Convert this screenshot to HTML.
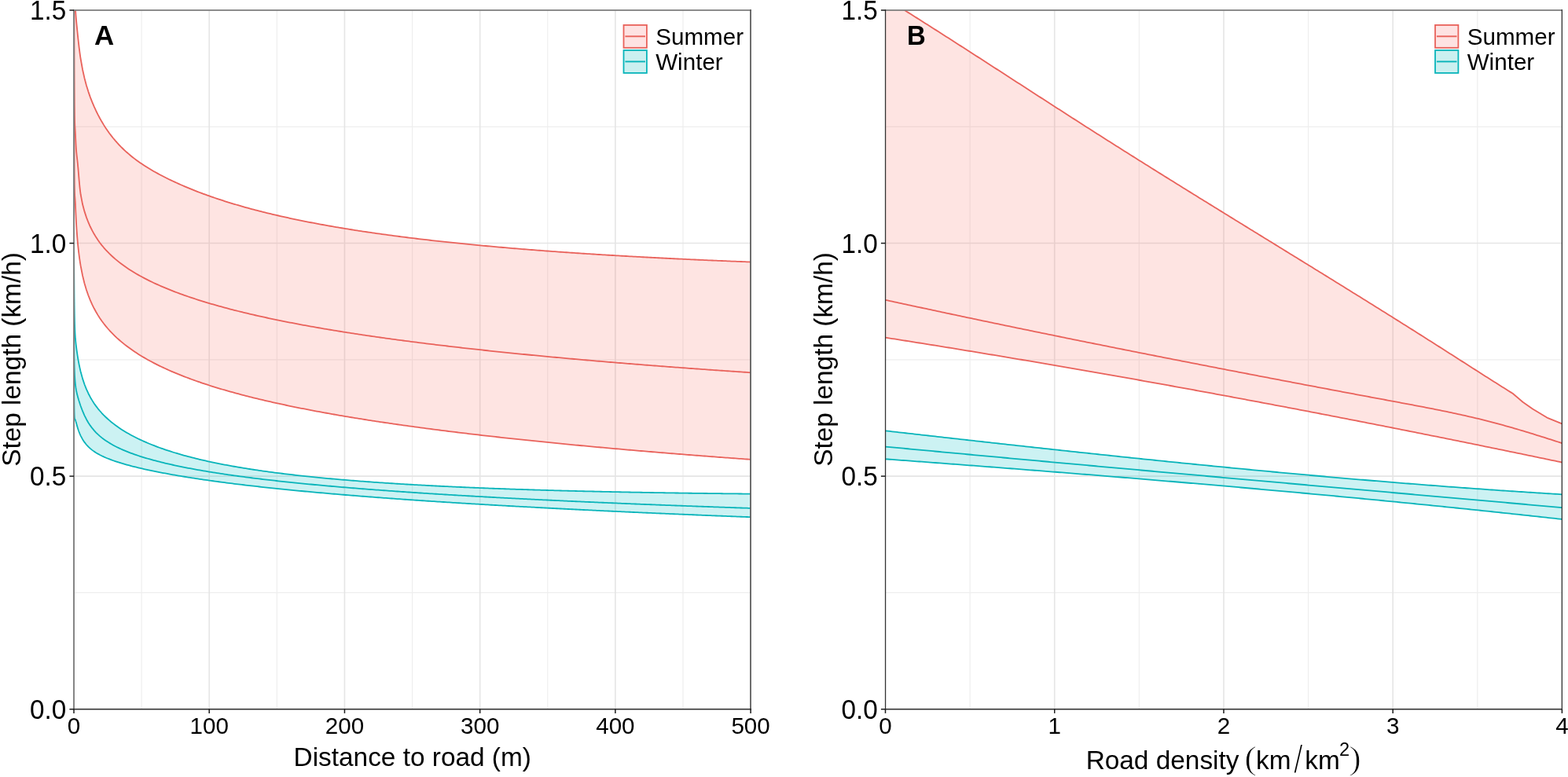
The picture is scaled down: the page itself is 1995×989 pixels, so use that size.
<!DOCTYPE html>
<html><head><meta charset="utf-8"><title>Step length plots</title>
<style>html,body{margin:0;padding:0;background:#fff;}body{width:1995px;height:989px;overflow:hidden;}svg{display:block;}text{font-family:"Liberation Sans",sans-serif;fill:#000;}</style>
</head><body>
<svg width="1995" height="989" viewBox="0 0 1995 989">
<rect x="0" y="0" width="1995" height="989" fill="#fff"/>
<defs><clipPath id="ca"><rect x="94.00" y="13.00" width="861.10" height="889.70"/></clipPath><clipPath id="cb"><rect x="1126.50" y="13.00" width="860.90" height="889.70"/></clipPath></defs>
<line x1="94.00" y1="754.42" x2="955.10" y2="754.42" stroke="#EEEEEE" stroke-width="1.2"/>
<line x1="94.00" y1="457.85" x2="955.10" y2="457.85" stroke="#EEEEEE" stroke-width="1.2"/>
<line x1="94.00" y1="161.28" x2="955.10" y2="161.28" stroke="#EEEEEE" stroke-width="1.2"/>
<line x1="180.11" y1="13.00" x2="180.11" y2="902.70" stroke="#EEEEEE" stroke-width="1.2"/>
<line x1="352.33" y1="13.00" x2="352.33" y2="902.70" stroke="#EEEEEE" stroke-width="1.2"/>
<line x1="524.55" y1="13.00" x2="524.55" y2="902.70" stroke="#EEEEEE" stroke-width="1.2"/>
<line x1="696.77" y1="13.00" x2="696.77" y2="902.70" stroke="#EEEEEE" stroke-width="1.2"/>
<line x1="868.99" y1="13.00" x2="868.99" y2="902.70" stroke="#EEEEEE" stroke-width="1.2"/>
<line x1="94.00" y1="606.13" x2="955.10" y2="606.13" stroke="#E5E5E5" stroke-width="1.6"/>
<line x1="94.00" y1="309.57" x2="955.10" y2="309.57" stroke="#E5E5E5" stroke-width="1.6"/>
<line x1="266.22" y1="13.00" x2="266.22" y2="902.70" stroke="#E5E5E5" stroke-width="1.6"/>
<line x1="438.44" y1="13.00" x2="438.44" y2="902.70" stroke="#E5E5E5" stroke-width="1.6"/>
<line x1="610.66" y1="13.00" x2="610.66" y2="902.70" stroke="#E5E5E5" stroke-width="1.6"/>
<line x1="782.88" y1="13.00" x2="782.88" y2="902.70" stroke="#E5E5E5" stroke-width="1.6"/>
<g clip-path="url(#ca)">
<polygon points="94.60,-29.74 94.62,-28.60 94.64,-27.36 94.66,-26.13 94.68,-24.91 94.70,-23.69 94.72,-22.48 94.74,-21.27 94.77,-20.07 94.79,-18.88 94.82,-17.69 94.84,-16.51 94.87,-15.35 94.90,-14.19 94.92,-13.04 94.95,-11.90 94.98,-10.76 95.01,-9.64 95.05,-8.53 95.08,-7.43 95.11,-6.34 95.15,-5.26 95.18,-4.19 95.22,-3.12 95.26,-2.07 95.30,-1.03 95.34,0.00 95.38,1.03 95.43,2.04 95.47,3.05 95.52,4.05 95.57,5.04 95.61,6.02 95.67,7.00 95.72,7.97 95.77,8.94 95.83,9.90 95.89,10.86 95.94,11.81 96.01,12.77 96.07,13.72 96.13,14.67 96.20,15.63 96.27,16.58 96.34,17.54 96.42,18.50 96.49,19.47 96.57,20.45 96.65,21.43 96.73,22.42 96.82,23.42 96.91,24.44 97.00,25.47 97.10,26.51 97.19,27.57 97.29,28.65 97.40,29.74 97.50,30.86 97.61,32.00 97.73,33.17 97.85,34.36 97.97,35.58 98.09,36.83 98.22,38.11 98.35,39.42 98.49,40.77 98.63,42.16 98.78,43.58 98.93,45.04 99.08,46.53 99.24,48.05 99.41,49.59 99.58,51.17 99.75,52.76 99.94,54.38 100.12,56.02 100.32,57.68 100.51,59.35 100.72,61.04 100.93,62.73 101.15,64.44 101.37,66.15 101.61,67.87 101.85,69.59 102.09,71.31 102.35,73.03 102.61,74.74 105.05,88.50 107.50,99.47 109.94,108.65 112.38,116.59 114.82,123.61 117.27,129.93 119.71,135.69 122.15,140.99 124.59,145.92 127.04,150.53 129.48,154.83 131.92,158.88 134.37,162.68 136.81,166.28 139.25,169.68 141.69,172.90 144.14,175.96 146.58,178.87 149.02,181.65 151.46,184.29 153.91,186.83 156.35,189.25 158.79,191.57 161.23,193.80 163.68,195.94 166.12,197.99 168.56,199.97 171.01,201.87 173.45,203.71 175.89,205.49 178.33,207.20 180.78,208.86 183.22,210.48 185.66,212.04 188.10,213.57 190.55,215.05 192.99,216.50 195.43,217.91 197.87,219.29 200.32,220.64 202.76,221.96 205.20,223.26 207.65,224.53 210.09,225.77 212.53,226.99 214.97,228.19 217.42,229.37 219.86,230.53 222.30,231.67 224.74,232.79 227.19,233.89 229.63,234.98 232.07,236.05 234.51,237.10 236.96,238.14 239.40,239.16 241.84,240.16 244.29,241.16 246.73,242.13 249.17,243.09 251.61,244.04 254.06,244.98 256.50,245.90 258.94,246.81 261.38,247.70 263.83,248.58 266.27,249.46 268.71,250.31 271.15,251.16 273.60,252.00 276.04,252.82 278.48,253.64 280.93,254.44 283.37,255.23 285.81,256.02 288.25,256.79 290.70,257.55 293.14,258.30 295.58,259.05 298.02,259.78 300.47,260.51 302.91,261.23 305.35,261.93 307.79,262.63 310.24,263.32 312.68,264.01 315.12,264.68 317.57,265.35 320.01,266.01 322.45,266.66 324.89,267.30 327.34,267.94 329.78,268.57 332.22,269.19 334.66,269.81 337.11,270.42 339.55,271.02 341.99,271.61 344.43,272.20 346.88,272.79 349.32,273.36 351.76,273.93 354.21,274.50 356.65,275.05 359.09,275.61 361.53,276.15 363.98,276.69 366.42,277.23 368.86,277.76 371.30,278.28 373.75,278.80 376.19,279.32 378.63,279.82 381.07,280.33 383.52,280.83 385.96,281.32 388.40,281.81 390.85,282.29 393.29,282.77 395.73,283.25 398.17,283.71 400.62,284.18 403.06,284.64 405.50,285.10 407.94,285.55 410.39,286.00 412.83,286.44 415.27,286.88 417.71,287.32 420.16,287.75 422.60,288.18 425.04,288.60 427.49,289.02 429.93,289.44 432.37,289.85 434.81,290.26 437.26,290.66 439.70,291.06 442.14,291.46 444.58,291.86 447.03,292.25 449.47,292.63 451.91,293.02 454.35,293.40 456.80,293.78 459.24,294.15 461.68,294.52 464.12,294.89 466.57,295.25 469.01,295.61 471.45,295.97 473.90,296.33 476.34,296.68 478.78,297.03 481.22,297.38 483.67,297.72 486.11,298.06 488.55,298.40 490.99,298.73 493.44,299.07 495.88,299.40 498.32,299.72 500.76,300.05 503.21,300.37 505.65,300.69 508.09,301.01 510.54,301.32 512.98,301.63 515.42,301.94 517.86,302.25 520.31,302.55 522.75,302.86 525.19,303.16 527.63,303.45 530.08,303.75 532.52,304.04 534.96,304.33 537.40,304.62 539.85,304.91 542.29,305.19 544.73,305.47 547.18,305.75 549.62,306.03 552.06,306.30 554.50,306.58 556.95,306.85 559.39,307.12 561.83,307.38 564.27,307.65 566.72,307.91 569.16,308.17 571.60,308.43 574.04,308.69 576.49,308.95 578.93,309.20 581.37,309.45 583.82,309.70 586.26,309.95 588.70,310.20 591.14,310.44 593.59,310.68 596.03,310.93 598.47,311.17 600.91,311.40 603.36,311.64 605.80,311.87 608.24,312.11 610.68,312.34 613.13,312.57 615.57,312.79 618.01,313.02 620.46,313.24 622.90,313.47 625.34,313.69 627.78,313.91 630.23,314.13 632.67,314.34 635.11,314.56 637.55,314.77 640.00,314.99 642.44,315.20 644.88,315.41 647.32,315.61 649.77,315.82 652.21,316.03 654.65,316.23 657.10,316.43 659.54,316.63 661.98,316.83 664.42,317.03 666.87,317.23 669.31,317.42 671.75,317.62 674.19,317.81 676.64,318.00 679.08,318.19 681.52,318.38 683.96,318.57 686.41,318.76 688.85,318.94 691.29,319.13 693.74,319.31 696.18,319.49 698.62,319.67 701.06,319.85 703.51,320.03 705.95,320.21 708.39,320.38 710.83,320.56 713.28,320.73 715.72,320.90 718.16,321.08 720.60,321.25 723.05,321.41 725.49,321.58 727.93,321.75 730.38,321.92 732.82,322.08 735.26,322.24 737.70,322.41 740.15,322.57 742.59,322.73 745.03,322.89 747.47,323.05 749.92,323.21 752.36,323.36 754.80,323.52 757.24,323.67 759.69,323.83 762.13,323.98 764.57,324.13 767.02,324.28 769.46,324.43 771.90,324.58 774.34,324.73 776.79,324.87 779.23,325.02 781.67,325.17 784.11,325.31 786.56,325.45 789.00,325.60 791.44,325.74 793.88,325.88 796.33,326.02 798.77,326.16 801.21,326.30 803.65,326.43 806.10,326.57 808.54,326.70 810.98,326.84 813.43,326.97 815.87,327.11 818.31,327.24 820.75,327.37 823.20,327.50 825.64,327.63 828.08,327.76 830.52,327.89 832.97,328.01 835.41,328.14 837.85,328.27 840.29,328.39 842.74,328.52 845.18,328.64 847.62,328.76 850.07,328.89 852.51,329.01 854.95,329.13 857.39,329.25 859.84,329.37 862.28,329.48 864.72,329.60 867.16,329.72 869.61,329.84 872.05,329.95 874.49,330.07 876.93,330.18 879.38,330.29 881.82,330.41 884.26,330.52 886.71,330.63 889.15,330.74 891.59,330.85 894.03,330.96 896.48,331.07 898.92,331.18 901.36,331.29 903.80,331.39 906.25,331.50 908.69,331.60 911.13,331.71 913.57,331.81 916.02,331.92 918.46,332.02 920.90,332.12 923.35,332.22 925.79,332.33 928.23,332.43 930.67,332.53 933.12,332.63 935.56,332.72 938.00,332.82 940.44,332.92 942.89,333.02 945.33,333.11 947.77,333.21 950.21,333.30 952.66,333.40 955.10,333.49 955.10,584.85 952.66,584.68 950.21,584.50 947.77,584.33 945.33,584.15 942.89,583.97 940.44,583.79 938.00,583.61 935.56,583.43 933.12,583.25 930.67,583.07 928.23,582.89 925.79,582.71 923.35,582.53 920.90,582.35 918.46,582.17 916.02,581.98 913.57,581.80 911.13,581.61 908.69,581.43 906.25,581.24 903.80,581.06 901.36,580.87 898.92,580.69 896.48,580.50 894.03,580.31 891.59,580.12 889.15,579.93 886.71,579.74 884.26,579.55 881.82,579.36 879.38,579.17 876.93,578.98 874.49,578.79 872.05,578.59 869.61,578.40 867.16,578.21 864.72,578.01 862.28,577.82 859.84,577.62 857.39,577.42 854.95,577.23 852.51,577.03 850.07,576.83 847.62,576.63 845.18,576.43 842.74,576.23 840.29,576.03 837.85,575.83 835.41,575.63 832.97,575.43 830.52,575.23 828.08,575.02 825.64,574.82 823.20,574.61 820.75,574.41 818.31,574.20 815.87,573.99 813.43,573.79 810.98,573.58 808.54,573.37 806.10,573.16 803.65,572.95 801.21,572.74 798.77,572.53 796.33,572.32 793.88,572.10 791.44,571.89 789.00,571.67 786.56,571.46 784.11,571.24 781.67,571.03 779.23,570.81 776.79,570.59 774.34,570.37 771.90,570.15 769.46,569.93 767.02,569.71 764.57,569.49 762.13,569.27 759.69,569.05 757.24,568.82 754.80,568.60 752.36,568.37 749.92,568.15 747.47,567.92 745.03,567.69 742.59,567.46 740.15,567.23 737.70,567.00 735.26,566.77 732.82,566.54 730.38,566.31 727.93,566.07 725.49,565.84 723.05,565.60 720.60,565.37 718.16,565.13 715.72,564.89 713.28,564.66 710.83,564.42 708.39,564.18 705.95,563.93 703.51,563.69 701.06,563.45 698.62,563.21 696.18,562.96 693.74,562.71 691.29,562.47 688.85,562.22 686.41,561.97 683.96,561.72 681.52,561.47 679.08,561.22 676.64,560.97 674.19,560.71 671.75,560.46 669.31,560.20 666.87,559.95 664.42,559.69 661.98,559.43 659.54,559.17 657.10,558.91 654.65,558.65 652.21,558.39 649.77,558.12 647.32,557.86 644.88,557.59 642.44,557.32 640.00,557.05 637.55,556.79 635.11,556.51 632.67,556.24 630.23,555.97 627.78,555.70 625.34,555.42 622.90,555.14 620.46,554.87 618.01,554.59 615.57,554.31 613.13,554.03 610.68,553.74 608.24,553.46 605.80,553.18 603.36,552.89 600.91,552.60 598.47,552.31 596.03,552.02 593.59,551.73 591.14,551.44 588.70,551.15 586.26,550.85 583.82,550.55 581.37,550.25 578.93,549.96 576.49,549.65 574.04,549.35 571.60,549.05 569.16,548.74 566.72,548.44 564.27,548.13 561.83,547.82 559.39,547.51 556.95,547.19 554.50,546.88 552.06,546.56 549.62,546.25 547.18,545.93 544.73,545.61 542.29,545.28 539.85,544.96 537.40,544.63 534.96,544.31 532.52,543.98 530.08,543.65 527.63,543.32 525.19,542.98 522.75,542.65 520.31,542.31 517.86,541.97 515.42,541.63 512.98,541.28 510.54,540.94 508.09,540.59 505.65,540.24 503.21,539.89 500.76,539.54 498.32,539.19 495.88,538.83 493.44,538.47 490.99,538.11 488.55,537.75 486.11,537.38 483.67,537.02 481.22,536.65 478.78,536.27 476.34,535.90 473.90,535.53 471.45,535.15 469.01,534.77 466.57,534.38 464.12,534.00 461.68,533.61 459.24,533.22 456.80,532.83 454.35,532.44 451.91,532.04 449.47,531.64 447.03,531.24 444.58,530.83 442.14,530.43 439.70,530.02 437.26,529.60 434.81,529.19 432.37,528.77 429.93,528.35 427.49,527.92 425.04,527.50 422.60,527.07 420.16,526.64 417.71,526.20 415.27,525.76 412.83,525.32 410.39,524.87 407.94,524.43 405.50,523.98 403.06,523.52 400.62,523.06 398.17,522.60 395.73,522.14 393.29,521.67 390.85,521.20 388.40,520.72 385.96,520.24 383.52,519.76 381.07,519.27 378.63,518.78 376.19,518.29 373.75,517.79 371.30,517.29 368.86,516.78 366.42,516.27 363.98,515.75 361.53,515.23 359.09,514.71 356.65,514.18 354.21,513.65 351.76,513.11 349.32,512.57 346.88,512.02 344.43,511.47 341.99,510.91 339.55,510.35 337.11,509.78 334.66,509.21 332.22,508.63 329.78,508.05 327.34,507.46 324.89,506.86 322.45,506.26 320.01,505.66 317.57,505.04 315.12,504.43 312.68,503.80 310.24,503.17 307.79,502.53 305.35,501.88 302.91,501.23 300.47,500.57 298.02,499.91 295.58,499.23 293.14,498.55 290.70,497.86 288.25,497.17 285.81,496.46 283.37,495.75 280.93,495.03 278.48,494.29 276.04,493.55 273.60,492.81 271.15,492.05 268.71,491.28 266.27,490.50 263.83,489.71 261.38,488.91 258.94,488.10 256.50,487.28 254.06,486.45 251.61,485.61 249.17,484.75 246.73,483.88 244.29,483.00 241.84,482.11 239.40,481.20 236.96,480.28 234.51,479.34 232.07,478.39 229.63,477.42 227.19,476.43 224.74,475.43 222.30,474.42 219.86,473.38 217.42,472.33 214.97,471.25 212.53,470.16 210.09,469.04 207.65,467.91 205.20,466.75 202.76,465.57 200.32,464.36 197.87,463.13 195.43,461.87 192.99,460.58 190.55,459.26 188.10,457.92 185.66,456.54 183.22,455.12 180.78,453.67 178.33,452.19 175.89,450.66 173.45,449.09 171.01,447.48 168.56,445.81 166.12,444.10 163.68,442.33 161.23,440.51 158.79,438.62 156.35,436.66 153.91,434.64 151.46,432.53 149.02,430.34 146.58,428.05 144.14,425.66 141.69,423.16 139.25,420.53 136.81,417.76 134.37,414.84 131.92,411.74 129.48,408.44 127.04,404.91 124.59,401.12 122.15,397.01 119.71,392.54 117.27,387.63 114.82,382.16 112.38,376.01 109.94,368.97 107.50,360.73 105.05,350.79 102.61,338.24 102.35,336.67 102.09,335.10 101.85,333.52 101.61,331.94 101.37,330.36 101.15,328.78 100.93,327.19 100.72,325.60 100.51,324.01 100.32,322.41 100.12,320.81 99.94,319.21 99.75,317.60 99.58,315.99 99.41,314.38 99.24,312.76 99.08,311.14 98.93,309.52 98.78,307.89 98.63,306.26 98.49,304.63 98.35,303.00 98.22,301.36 98.09,299.72 97.97,298.07 97.85,296.42 97.73,294.78 97.61,293.12 97.50,291.47 97.40,289.81 97.29,288.15 97.19,286.49 97.10,284.83 97.00,283.16 96.91,281.50 96.82,279.83 96.73,278.16 96.65,276.49 96.57,274.82 96.49,273.16 96.42,271.53 96.34,269.92 96.27,268.35 96.20,266.82 96.13,265.34 96.07,263.91 96.01,262.55 95.94,261.25 95.89,260.03 95.83,258.89 95.77,257.83 95.72,256.86 95.67,255.99 95.61,255.20 95.57,254.48 95.52,253.83 95.47,253.22 95.43,252.65 95.38,252.11 95.34,251.58 95.30,251.05 95.26,250.52 95.22,249.98 95.18,249.41 95.15,248.81 95.11,248.18 95.08,247.50 95.05,246.76 95.01,245.97 94.98,245.11 94.95,244.19 94.92,243.19 94.90,242.12 94.87,240.96 94.84,239.72 94.82,238.39 94.79,236.97 94.77,235.46 94.74,233.86 94.72,232.16 94.70,230.37 94.68,228.48 94.66,226.50 94.64,224.42 94.62,222.25 94.60,219.98 94.58,217.62 94.56,215.17 94.55,212.63 94.53,210.00 94.51,207.27 94.50,204.46 94.48,201.56 94.47,198.58 94.45,195.51 94.44,192.37 94.43,189.14 94.41,185.85 94.40,182.48 94.39,179.04 94.38,175.54 94.36,171.98 94.35,168.37 94.34,164.70 94.33,160.98 94.32,157.22 94.31,153.41 94.30,149.57 94.29,145.69 94.28,141.78 94.28,137.85 94.27,133.90 94.26,129.93 94.25,125.94 94.24,121.94 94.24,117.94 94.23,113.93 94.22,109.93 94.22,105.92 94.21,101.93 94.20,97.94 94.20,93.97 94.19,90.01 94.18,86.08 94.18,82.16 94.17,78.27 94.17,74.41 94.16,70.57 94.16,66.77 94.15,63.00 94.15,59.26 94.14,55.57 94.14,51.91 94.14,48.29 94.13,44.72 94.13,41.19 94.12,37.70 94.12,34.27 94.12,30.87 94.11,27.53 94.11,24.24 94.11,20.99 94.10,17.80 94.10,14.66 94.10,11.57 94.09,8.53 94.09,5.54 94.09,2.61 94.08,-0.27 94.08,-3.10 94.08,-5.88 94.08,-8.60 94.07,-11.27 94.07,-13.89 94.07,-16.45 94.07,-18.97 94.07,-21.43 94.06,-23.84 94.06,-26.20 94.06,-28.50 94.06,-30.76 94.06,-32.97 94.06,-35.13 94.05,-37.24 94.05,-39.30 94.05,-41.32 94.05,-41.47" fill="#F8766D" fill-opacity="0.2" stroke="none"/>
<polygon points="94.05,320.57 94.05,320.60 94.05,320.92 94.05,321.26 94.06,321.61 94.06,321.96 94.06,322.33 94.06,322.70 94.06,323.09 94.06,323.48 94.07,323.89 94.07,324.31 94.07,324.74 94.07,325.18 94.07,325.63 94.08,326.09 94.08,326.57 94.08,327.05 94.08,327.56 94.09,328.07 94.09,328.60 94.09,329.14 94.10,329.69 94.10,330.26 94.10,330.84 94.11,331.43 94.11,332.05 94.11,332.67 94.12,333.31 94.12,333.97 94.12,334.64 94.13,335.32 94.13,336.03 94.14,336.74 94.14,337.48 94.14,338.23 94.15,339.00 94.15,339.78 94.16,340.59 94.16,341.40 94.17,342.24 94.17,343.09 94.18,343.96 94.18,344.85 94.19,345.76 94.20,346.68 94.20,347.62 94.21,348.58 94.22,349.56 94.22,350.55 94.23,351.56 94.24,352.59 94.24,353.64 94.25,354.71 94.26,355.79 94.27,356.89 94.28,358.00 94.28,359.13 94.29,360.28 94.30,361.45 94.31,362.63 94.32,363.82 94.33,365.04 94.34,366.26 94.35,367.50 94.36,368.75 94.38,370.02 94.39,371.30 94.40,372.59 94.41,373.89 94.43,375.21 94.44,376.53 94.45,377.86 94.47,379.20 94.48,380.55 94.50,381.91 94.51,383.27 94.53,384.63 94.55,386.00 94.56,387.37 94.58,388.74 94.60,390.11 94.62,391.48 94.64,392.85 94.66,394.21 94.68,395.57 94.70,396.92 94.72,398.26 94.74,399.59 94.77,400.92 94.79,402.23 94.82,403.52 94.84,404.80 94.87,406.06 94.90,407.30 94.92,408.52 94.95,409.72 94.98,410.89 95.01,412.04 95.05,413.17 95.08,414.28 95.11,415.36 95.15,416.42 95.18,417.45 95.22,418.46 95.26,419.45 95.30,420.42 95.34,421.37 95.38,422.29 95.43,423.19 95.47,424.07 95.52,424.94 95.57,425.78 95.61,426.60 95.67,427.41 95.72,428.20 95.77,428.97 95.83,429.73 95.89,430.48 95.94,431.21 96.01,431.93 96.07,432.65 96.13,433.36 96.20,434.06 96.27,434.75 96.34,435.45 96.42,436.14 96.49,436.83 96.57,437.53 96.65,438.23 96.73,438.94 96.82,439.65 96.91,440.38 97.00,441.12 97.10,441.87 97.19,442.64 97.29,443.42 97.40,444.21 97.50,445.02 97.61,445.83 97.73,446.66 97.85,447.50 97.97,448.35 98.09,449.22 98.22,450.09 98.35,450.98 98.49,451.88 98.63,452.79 98.78,453.71 98.93,454.64 99.08,455.58 99.24,456.53 99.41,457.49 99.58,458.46 99.75,459.44 99.94,460.43 100.12,461.43 100.32,462.44 100.51,463.46 100.72,464.48 100.93,465.52 101.15,466.56 101.37,467.60 101.61,468.66 101.85,469.72 102.09,470.79 102.35,471.87 102.61,472.95 105.05,481.88 107.50,489.21 109.94,495.39 112.38,500.73 114.82,505.43 117.27,509.63 119.71,513.42 122.15,516.89 124.59,520.07 127.04,523.02 129.48,525.76 131.92,528.33 134.37,530.75 136.81,533.02 139.25,535.18 141.69,537.22 144.14,539.17 146.58,541.03 149.02,542.80 151.46,544.50 153.91,546.13 156.35,547.70 158.79,549.21 161.23,550.67 163.68,552.08 166.12,553.43 168.56,554.75 171.01,556.02 173.45,557.26 175.89,558.46 178.33,559.63 180.78,560.76 183.22,561.86 185.66,562.93 188.10,563.98 190.55,565.00 192.99,565.99 195.43,566.96 197.87,567.90 200.32,568.83 202.76,569.73 205.20,570.61 207.65,571.47 210.09,572.31 212.53,573.13 214.97,573.93 217.42,574.72 219.86,575.49 222.30,576.24 224.74,576.98 227.19,577.70 229.63,578.41 232.07,579.10 234.51,579.78 236.96,580.45 239.40,581.10 241.84,581.74 244.29,582.37 246.73,582.99 249.17,583.59 251.61,584.19 254.06,584.77 256.50,585.35 258.94,585.91 261.38,586.46 263.83,587.01 266.27,587.54 268.71,588.07 271.15,588.59 273.60,589.09 276.04,589.59 278.48,590.09 280.93,590.57 283.37,591.04 285.81,591.51 288.25,591.97 290.70,592.43 293.14,592.87 295.58,593.31 298.02,593.75 300.47,594.17 302.91,594.59 305.35,595.01 307.79,595.42 310.24,595.82 312.68,596.21 315.12,596.60 317.57,596.99 320.01,597.37 322.45,597.74 324.89,598.11 327.34,598.47 329.78,598.83 332.22,599.18 334.66,599.53 337.11,599.87 339.55,600.21 341.99,600.55 344.43,600.88 346.88,601.20 349.32,601.52 351.76,601.84 354.21,602.15 356.65,602.46 359.09,602.76 361.53,603.06 363.98,603.36 366.42,603.65 368.86,603.94 371.30,604.23 373.75,604.51 376.19,604.79 378.63,605.06 381.07,605.34 383.52,605.60 385.96,605.87 388.40,606.13 390.85,606.39 393.29,606.65 395.73,606.90 398.17,607.15 400.62,607.39 403.06,607.64 405.50,607.88 407.94,608.12 410.39,608.35 412.83,608.58 415.27,608.81 417.71,609.04 420.16,609.26 422.60,609.49 425.04,609.70 427.49,609.92 429.93,610.14 432.37,610.35 434.81,610.56 437.26,610.76 439.70,610.97 442.14,611.17 444.58,611.37 447.03,611.57 449.47,611.77 451.91,611.96 454.35,612.15 456.80,612.34 459.24,612.53 461.68,612.71 464.12,612.90 466.57,613.08 469.01,613.26 471.45,613.44 473.90,613.61 476.34,613.78 478.78,613.96 481.22,614.13 483.67,614.30 486.11,614.46 488.55,614.63 490.99,614.79 493.44,614.95 495.88,615.11 498.32,615.27 500.76,615.43 503.21,615.58 505.65,615.73 508.09,615.88 510.54,616.03 512.98,616.18 515.42,616.33 517.86,616.48 520.31,616.62 522.75,616.76 525.19,616.90 527.63,617.04 530.08,617.18 532.52,617.32 534.96,617.45 537.40,617.59 539.85,617.72 542.29,617.85 544.73,617.98 547.18,618.11 549.62,618.24 552.06,618.37 554.50,618.49 556.95,618.61 559.39,618.74 561.83,618.86 564.27,618.98 566.72,619.10 569.16,619.22 571.60,619.33 574.04,619.45 576.49,619.56 578.93,619.68 581.37,619.79 583.82,619.90 586.26,620.01 588.70,620.12 591.14,620.23 593.59,620.33 596.03,620.44 598.47,620.54 600.91,620.65 603.36,620.75 605.80,620.85 608.24,620.95 610.68,621.05 613.13,621.15 615.57,621.25 618.01,621.35 620.46,621.44 622.90,621.54 625.34,621.63 627.78,621.73 630.23,621.82 632.67,621.91 635.11,622.00 637.55,622.09 640.00,622.18 642.44,622.27 644.88,622.35 647.32,622.44 649.77,622.53 652.21,622.61 654.65,622.69 657.10,622.78 659.54,622.86 661.98,622.94 664.42,623.02 666.87,623.10 669.31,623.18 671.75,623.26 674.19,623.34 676.64,623.41 679.08,623.49 681.52,623.57 683.96,623.64 686.41,623.72 688.85,623.79 691.29,623.86 693.74,623.93 696.18,624.00 698.62,624.08 701.06,624.14 703.51,624.21 705.95,624.28 708.39,624.35 710.83,624.42 713.28,624.48 715.72,624.55 718.16,624.62 720.60,624.68 723.05,624.74 725.49,624.81 727.93,624.87 730.38,624.93 732.82,625.00 735.26,625.06 737.70,625.12 740.15,625.18 742.59,625.24 745.03,625.29 747.47,625.35 749.92,625.41 752.36,625.47 754.80,625.52 757.24,625.58 759.69,625.64 762.13,625.69 764.57,625.74 767.02,625.80 769.46,625.85 771.90,625.90 774.34,625.96 776.79,626.01 779.23,626.06 781.67,626.11 784.11,626.16 786.56,626.21 789.00,626.26 791.44,626.31 793.88,626.36 796.33,626.40 798.77,626.45 801.21,626.50 803.65,626.54 806.10,626.59 808.54,626.63 810.98,626.68 813.43,626.72 815.87,626.77 818.31,626.81 820.75,626.85 823.20,626.90 825.64,626.94 828.08,626.98 830.52,627.02 832.97,627.06 835.41,627.10 837.85,627.14 840.29,627.18 842.74,627.22 845.18,627.26 847.62,627.30 850.07,627.34 852.51,627.38 854.95,627.41 857.39,627.45 859.84,627.49 862.28,627.52 864.72,627.56 867.16,627.59 869.61,627.63 872.05,627.66 874.49,627.70 876.93,627.73 879.38,627.76 881.82,627.80 884.26,627.83 886.71,627.86 889.15,627.89 891.59,627.92 894.03,627.96 896.48,627.99 898.92,628.02 901.36,628.05 903.80,628.08 906.25,628.11 908.69,628.13 911.13,628.16 913.57,628.19 916.02,628.22 918.46,628.25 920.90,628.28 923.35,628.30 925.79,628.33 928.23,628.36 930.67,628.38 933.12,628.41 935.56,628.43 938.00,628.46 940.44,628.48 942.89,628.51 945.33,628.53 947.77,628.56 950.21,628.58 952.66,628.60 955.10,628.63 955.10,658.21 952.66,658.12 950.21,658.02 947.77,657.93 945.33,657.83 942.89,657.74 940.44,657.64 938.00,657.55 935.56,657.45 933.12,657.35 930.67,657.26 928.23,657.16 925.79,657.06 923.35,656.97 920.90,656.87 918.46,656.77 916.02,656.67 913.57,656.57 911.13,656.48 908.69,656.38 906.25,656.28 903.80,656.18 901.36,656.08 898.92,655.98 896.48,655.88 894.03,655.78 891.59,655.68 889.15,655.58 886.71,655.48 884.26,655.37 881.82,655.27 879.38,655.17 876.93,655.07 874.49,654.97 872.05,654.86 869.61,654.76 867.16,654.66 864.72,654.55 862.28,654.45 859.84,654.35 857.39,654.24 854.95,654.14 852.51,654.03 850.07,653.93 847.62,653.82 845.18,653.71 842.74,653.61 840.29,653.50 837.85,653.40 835.41,653.29 832.97,653.18 830.52,653.07 828.08,652.97 825.64,652.86 823.20,652.75 820.75,652.64 818.31,652.53 815.87,652.42 813.43,652.31 810.98,652.20 808.54,652.09 806.10,651.98 803.65,651.87 801.21,651.76 798.77,651.65 796.33,651.53 793.88,651.42 791.44,651.31 789.00,651.20 786.56,651.08 784.11,650.97 781.67,650.85 779.23,650.74 776.79,650.62 774.34,650.51 771.90,650.39 769.46,650.28 767.02,650.16 764.57,650.05 762.13,649.93 759.69,649.81 757.24,649.69 754.80,649.58 752.36,649.46 749.92,649.34 747.47,649.22 745.03,649.10 742.59,648.98 740.15,648.86 737.70,648.74 735.26,648.62 732.82,648.50 730.38,648.38 727.93,648.25 725.49,648.13 723.05,648.01 720.60,647.88 718.16,647.76 715.72,647.64 713.28,647.51 710.83,647.39 708.39,647.26 705.95,647.14 703.51,647.01 701.06,646.88 698.62,646.76 696.18,646.63 693.74,646.50 691.29,646.37 688.85,646.24 686.41,646.11 683.96,645.98 681.52,645.85 679.08,645.72 676.64,645.59 674.19,645.46 671.75,645.33 669.31,645.20 666.87,645.06 664.42,644.93 661.98,644.80 659.54,644.66 657.10,644.53 654.65,644.39 652.21,644.26 649.77,644.12 647.32,643.98 644.88,643.85 642.44,643.71 640.00,643.57 637.55,643.43 635.11,643.29 632.67,643.15 630.23,643.01 627.78,642.87 625.34,642.73 622.90,642.59 620.46,642.44 618.01,642.30 615.57,642.16 613.13,642.01 610.68,641.87 608.24,641.72 605.80,641.58 603.36,641.43 600.91,641.28 598.47,641.14 596.03,640.99 593.59,640.84 591.14,640.69 588.70,640.54 586.26,640.39 583.82,640.24 581.37,640.09 578.93,639.93 576.49,639.78 574.04,639.63 571.60,639.47 569.16,639.32 566.72,639.16 564.27,639.00 561.83,638.85 559.39,638.69 556.95,638.53 554.50,638.37 552.06,638.21 549.62,638.05 547.18,637.89 544.73,637.73 542.29,637.57 539.85,637.40 537.40,637.24 534.96,637.07 532.52,636.91 530.08,636.74 527.63,636.57 525.19,636.41 522.75,636.24 520.31,636.07 517.86,635.90 515.42,635.73 512.98,635.55 510.54,635.38 508.09,635.21 505.65,635.03 503.21,634.86 500.76,634.68 498.32,634.51 495.88,634.33 493.44,634.15 490.99,633.97 488.55,633.79 486.11,633.61 483.67,633.43 481.22,633.24 478.78,633.06 476.34,632.87 473.90,632.69 471.45,632.50 469.01,632.31 466.57,632.12 464.12,631.93 461.68,631.74 459.24,631.55 456.80,631.36 454.35,631.16 451.91,630.97 449.47,630.77 447.03,630.57 444.58,630.38 442.14,630.18 439.70,629.98 437.26,629.77 434.81,629.57 432.37,629.37 429.93,629.16 427.49,628.95 425.04,628.75 422.60,628.54 420.16,628.33 417.71,628.12 415.27,627.90 412.83,627.69 410.39,627.47 407.94,627.26 405.50,627.04 403.06,626.82 400.62,626.60 398.17,626.38 395.73,626.15 393.29,625.93 390.85,625.70 388.40,625.48 385.96,625.25 383.52,625.02 381.07,624.78 378.63,624.55 376.19,624.31 373.75,624.08 371.30,623.84 368.86,623.60 366.42,623.35 363.98,623.11 361.53,622.87 359.09,622.62 356.65,622.37 354.21,622.12 351.76,621.87 349.32,621.61 346.88,621.35 344.43,621.10 341.99,620.84 339.55,620.57 337.11,620.31 334.66,620.04 332.22,619.77 329.78,619.50 327.34,619.23 324.89,618.96 322.45,618.68 320.01,618.40 317.57,618.12 315.12,617.83 312.68,617.55 310.24,617.26 307.79,616.97 305.35,616.67 302.91,616.37 300.47,616.07 298.02,615.77 295.58,615.47 293.14,615.16 290.70,614.85 288.25,614.54 285.81,614.22 283.37,613.90 280.93,613.58 278.48,613.25 276.04,612.92 273.60,612.59 271.15,612.26 268.71,611.92 266.27,611.57 263.83,611.23 261.38,610.88 258.94,610.52 256.50,610.17 254.06,609.81 251.61,609.44 249.17,609.07 246.73,608.70 244.29,608.32 241.84,607.94 239.40,607.55 236.96,607.16 234.51,606.76 232.07,606.36 229.63,605.95 227.19,605.54 224.74,605.12 222.30,604.70 219.86,604.27 217.42,603.84 214.97,603.39 212.53,602.95 210.09,602.49 207.65,602.03 205.20,601.57 202.76,601.09 200.32,600.61 197.87,600.12 195.43,599.63 192.99,599.12 190.55,598.61 188.10,598.09 185.66,597.55 183.22,597.01 180.78,596.46 178.33,595.89 175.89,595.32 173.45,594.73 171.01,594.13 168.56,593.51 166.12,592.88 163.68,592.23 161.23,591.56 158.79,590.88 156.35,590.17 153.91,589.44 151.46,588.68 149.02,587.90 146.58,587.09 144.14,586.25 141.69,585.37 139.25,584.44 136.81,583.47 134.37,582.45 131.92,581.37 129.48,580.22 127.04,578.99 124.59,577.66 122.15,576.21 119.71,574.63 117.27,572.87 114.82,570.89 112.38,568.62 109.94,565.99 107.50,562.89 105.05,559.17 102.61,554.57 102.35,554.01 102.09,553.45 101.85,552.89 101.61,552.33 101.37,551.78 101.15,551.23 100.93,550.69 100.72,550.15 100.51,549.61 100.32,549.07 100.12,548.54 99.94,548.02 99.75,547.49 99.58,546.98 99.41,546.46 99.24,545.96 99.08,545.46 98.93,544.96 98.78,544.48 98.63,544.00 98.49,543.53 98.35,543.06 98.22,542.61 98.09,542.16 97.97,541.72 97.85,541.29 97.73,540.87 97.61,540.46 97.50,540.06 97.40,539.68 97.29,539.30 97.19,538.93 97.10,538.57 97.00,538.23 96.91,537.90 96.82,537.58 96.73,537.27 96.65,536.97 96.57,536.69 96.49,536.42 96.42,536.16 96.34,535.92 96.27,535.68 96.20,535.47 96.13,535.26 96.07,535.07 96.01,534.89 95.94,534.72 95.89,534.57 95.83,534.44 95.77,534.31 95.72,534.20 95.67,534.10 95.61,534.02 95.57,533.95 95.52,533.89 95.47,533.84 95.43,533.79 95.38,533.75 95.34,533.71 95.30,533.67 95.26,533.62 95.22,533.57 95.18,533.51 95.15,533.43 95.11,533.35 95.08,533.25 95.05,533.14 95.01,533.01 94.98,532.86 94.95,532.69 94.92,532.51 94.90,532.30 94.87,532.07 94.84,531.82 94.82,531.54 94.79,531.24 94.77,530.92 94.74,530.57 94.72,530.20 94.70,529.80 94.68,529.38 94.66,528.93 94.64,528.46 94.62,527.97 94.60,527.45 94.58,526.90 94.56,526.34 94.55,525.75 94.53,525.13 94.51,524.50 94.50,523.84 94.48,523.17 94.47,522.47 94.45,521.76 94.44,521.02 94.43,520.27 94.41,519.51 94.40,518.73 94.39,517.93 94.38,517.12 94.36,516.29 94.35,515.46 94.34,514.61 94.33,513.76 94.32,512.89 94.31,512.02 94.30,511.14 94.29,510.25 94.28,509.36 94.28,508.46 94.27,507.56 94.26,506.66 94.25,505.75 94.24,504.85 94.24,503.94 94.23,503.03 94.22,502.13 94.22,501.23 94.21,500.33 94.20,499.43 94.20,498.54 94.19,497.65 94.18,496.77 94.18,495.90 94.17,495.03 94.17,494.16 94.16,493.31 94.16,492.46 94.15,491.62 94.15,490.79 94.14,489.97 94.14,489.16 94.14,488.36 94.13,487.57 94.13,486.79 94.12,486.02 94.12,485.26 94.12,484.51 94.11,483.77 94.11,483.05 94.11,482.34 94.10,481.63 94.10,481.13" fill="#00BFC4" fill-opacity="0.2" stroke="none"/>
<polyline points="94.60,-29.74 94.62,-28.60 94.64,-27.36 94.66,-26.13 94.68,-24.91 94.70,-23.69 94.72,-22.48 94.74,-21.27 94.77,-20.07 94.79,-18.88 94.82,-17.69 94.84,-16.51 94.87,-15.35 94.90,-14.19 94.92,-13.04 94.95,-11.90 94.98,-10.76 95.01,-9.64 95.05,-8.53 95.08,-7.43 95.11,-6.34 95.15,-5.26 95.18,-4.19 95.22,-3.12 95.26,-2.07 95.30,-1.03 95.34,0.00 95.38,1.03 95.43,2.04 95.47,3.05 95.52,4.05 95.57,5.04 95.61,6.02 95.67,7.00 95.72,7.97 95.77,8.94 95.83,9.90 95.89,10.86 95.94,11.81 96.01,12.77 96.07,13.72 96.13,14.67 96.20,15.63 96.27,16.58 96.34,17.54 96.42,18.50 96.49,19.47 96.57,20.45 96.65,21.43 96.73,22.42 96.82,23.42 96.91,24.44 97.00,25.47 97.10,26.51 97.19,27.57 97.29,28.65 97.40,29.74 97.50,30.86 97.61,32.00 97.73,33.17 97.85,34.36 97.97,35.58 98.09,36.83 98.22,38.11 98.35,39.42 98.49,40.77 98.63,42.16 98.78,43.58 98.93,45.04 99.08,46.53 99.24,48.05 99.41,49.59 99.58,51.17 99.75,52.76 99.94,54.38 100.12,56.02 100.32,57.68 100.51,59.35 100.72,61.04 100.93,62.73 101.15,64.44 101.37,66.15 101.61,67.87 101.85,69.59 102.09,71.31 102.35,73.03 102.61,74.74 105.05,88.50 107.50,99.47 109.94,108.65 112.38,116.59 114.82,123.61 117.27,129.93 119.71,135.69 122.15,140.99 124.59,145.92 127.04,150.53 129.48,154.83 131.92,158.88 134.37,162.68 136.81,166.28 139.25,169.68 141.69,172.90 144.14,175.96 146.58,178.87 149.02,181.65 151.46,184.29 153.91,186.83 156.35,189.25 158.79,191.57 161.23,193.80 163.68,195.94 166.12,197.99 168.56,199.97 171.01,201.87 173.45,203.71 175.89,205.49 178.33,207.20 180.78,208.86 183.22,210.48 185.66,212.04 188.10,213.57 190.55,215.05 192.99,216.50 195.43,217.91 197.87,219.29 200.32,220.64 202.76,221.96 205.20,223.26 207.65,224.53 210.09,225.77 212.53,226.99 214.97,228.19 217.42,229.37 219.86,230.53 222.30,231.67 224.74,232.79 227.19,233.89 229.63,234.98 232.07,236.05 234.51,237.10 236.96,238.14 239.40,239.16 241.84,240.16 244.29,241.16 246.73,242.13 249.17,243.09 251.61,244.04 254.06,244.98 256.50,245.90 258.94,246.81 261.38,247.70 263.83,248.58 266.27,249.46 268.71,250.31 271.15,251.16 273.60,252.00 276.04,252.82 278.48,253.64 280.93,254.44 283.37,255.23 285.81,256.02 288.25,256.79 290.70,257.55 293.14,258.30 295.58,259.05 298.02,259.78 300.47,260.51 302.91,261.23 305.35,261.93 307.79,262.63 310.24,263.32 312.68,264.01 315.12,264.68 317.57,265.35 320.01,266.01 322.45,266.66 324.89,267.30 327.34,267.94 329.78,268.57 332.22,269.19 334.66,269.81 337.11,270.42 339.55,271.02 341.99,271.61 344.43,272.20 346.88,272.79 349.32,273.36 351.76,273.93 354.21,274.50 356.65,275.05 359.09,275.61 361.53,276.15 363.98,276.69 366.42,277.23 368.86,277.76 371.30,278.28 373.75,278.80 376.19,279.32 378.63,279.82 381.07,280.33 383.52,280.83 385.96,281.32 388.40,281.81 390.85,282.29 393.29,282.77 395.73,283.25 398.17,283.71 400.62,284.18 403.06,284.64 405.50,285.10 407.94,285.55 410.39,286.00 412.83,286.44 415.27,286.88 417.71,287.32 420.16,287.75 422.60,288.18 425.04,288.60 427.49,289.02 429.93,289.44 432.37,289.85 434.81,290.26 437.26,290.66 439.70,291.06 442.14,291.46 444.58,291.86 447.03,292.25 449.47,292.63 451.91,293.02 454.35,293.40 456.80,293.78 459.24,294.15 461.68,294.52 464.12,294.89 466.57,295.25 469.01,295.61 471.45,295.97 473.90,296.33 476.34,296.68 478.78,297.03 481.22,297.38 483.67,297.72 486.11,298.06 488.55,298.40 490.99,298.73 493.44,299.07 495.88,299.40 498.32,299.72 500.76,300.05 503.21,300.37 505.65,300.69 508.09,301.01 510.54,301.32 512.98,301.63 515.42,301.94 517.86,302.25 520.31,302.55 522.75,302.86 525.19,303.16 527.63,303.45 530.08,303.75 532.52,304.04 534.96,304.33 537.40,304.62 539.85,304.91 542.29,305.19 544.73,305.47 547.18,305.75 549.62,306.03 552.06,306.30 554.50,306.58 556.95,306.85 559.39,307.12 561.83,307.38 564.27,307.65 566.72,307.91 569.16,308.17 571.60,308.43 574.04,308.69 576.49,308.95 578.93,309.20 581.37,309.45 583.82,309.70 586.26,309.95 588.70,310.20 591.14,310.44 593.59,310.68 596.03,310.93 598.47,311.17 600.91,311.40 603.36,311.64 605.80,311.87 608.24,312.11 610.68,312.34 613.13,312.57 615.57,312.79 618.01,313.02 620.46,313.24 622.90,313.47 625.34,313.69 627.78,313.91 630.23,314.13 632.67,314.34 635.11,314.56 637.55,314.77 640.00,314.99 642.44,315.20 644.88,315.41 647.32,315.61 649.77,315.82 652.21,316.03 654.65,316.23 657.10,316.43 659.54,316.63 661.98,316.83 664.42,317.03 666.87,317.23 669.31,317.42 671.75,317.62 674.19,317.81 676.64,318.00 679.08,318.19 681.52,318.38 683.96,318.57 686.41,318.76 688.85,318.94 691.29,319.13 693.74,319.31 696.18,319.49 698.62,319.67 701.06,319.85 703.51,320.03 705.95,320.21 708.39,320.38 710.83,320.56 713.28,320.73 715.72,320.90 718.16,321.08 720.60,321.25 723.05,321.41 725.49,321.58 727.93,321.75 730.38,321.92 732.82,322.08 735.26,322.24 737.70,322.41 740.15,322.57 742.59,322.73 745.03,322.89 747.47,323.05 749.92,323.21 752.36,323.36 754.80,323.52 757.24,323.67 759.69,323.83 762.13,323.98 764.57,324.13 767.02,324.28 769.46,324.43 771.90,324.58 774.34,324.73 776.79,324.87 779.23,325.02 781.67,325.17 784.11,325.31 786.56,325.45 789.00,325.60 791.44,325.74 793.88,325.88 796.33,326.02 798.77,326.16 801.21,326.30 803.65,326.43 806.10,326.57 808.54,326.70 810.98,326.84 813.43,326.97 815.87,327.11 818.31,327.24 820.75,327.37 823.20,327.50 825.64,327.63 828.08,327.76 830.52,327.89 832.97,328.01 835.41,328.14 837.85,328.27 840.29,328.39 842.74,328.52 845.18,328.64 847.62,328.76 850.07,328.89 852.51,329.01 854.95,329.13 857.39,329.25 859.84,329.37 862.28,329.48 864.72,329.60 867.16,329.72 869.61,329.84 872.05,329.95 874.49,330.07 876.93,330.18 879.38,330.29 881.82,330.41 884.26,330.52 886.71,330.63 889.15,330.74 891.59,330.85 894.03,330.96 896.48,331.07 898.92,331.18 901.36,331.29 903.80,331.39 906.25,331.50 908.69,331.60 911.13,331.71 913.57,331.81 916.02,331.92 918.46,332.02 920.90,332.12 923.35,332.22 925.79,332.33 928.23,332.43 930.67,332.53 933.12,332.63 935.56,332.72 938.00,332.82 940.44,332.92 942.89,333.02 945.33,333.11 947.77,333.21 950.21,333.30 952.66,333.40 955.10,333.49" fill="none" stroke="#E9625B" stroke-width="1.80" stroke-linejoin="round"/>
<polyline points="94.05,-41.47 94.05,-41.32 94.05,-39.30 94.05,-37.24 94.06,-35.13 94.06,-32.97 94.06,-30.76 94.06,-28.50 94.06,-26.20 94.06,-23.84 94.07,-21.43 94.07,-18.97 94.07,-16.45 94.07,-13.89 94.07,-11.27 94.08,-8.60 94.08,-5.88 94.08,-3.10 94.08,-0.27 94.09,2.61 94.09,5.54 94.09,8.53 94.10,11.57 94.10,14.66 94.10,17.80 94.11,20.99 94.11,24.24 94.11,27.53 94.12,30.87 94.12,34.27 94.12,37.70 94.13,41.19 94.13,44.72 94.14,48.29 94.14,51.91 94.14,55.57 94.15,59.26 94.15,63.00 94.16,66.77 94.16,70.57 94.17,74.41 94.17,78.27 94.18,82.16 94.18,86.08 94.19,90.01 94.20,93.97 94.20,97.94 94.21,101.93 94.22,105.92 94.22,109.93 94.23,113.93 94.24,117.94 94.24,121.94 94.25,125.94 94.26,129.93 94.27,133.90 94.28,137.85 94.28,141.78 94.29,145.69 94.30,149.57 94.31,153.41 94.32,157.22 94.33,160.98 94.34,164.70 94.35,168.37 94.36,171.98 94.38,175.54 94.39,179.04 94.40,182.48 94.41,185.85 94.43,189.14 94.44,192.37 94.45,195.51 94.47,198.58 94.48,201.56 94.50,204.46 94.51,207.27 94.53,210.00 94.55,212.63 94.56,215.17 94.58,217.62 94.60,219.98 94.62,222.25 94.64,224.42 94.66,226.50 94.68,228.48 94.70,230.37 94.72,232.16 94.74,233.86 94.77,235.46 94.79,236.97 94.82,238.39 94.84,239.72 94.87,240.96 94.90,242.12 94.92,243.19 94.95,244.19 94.98,245.11 95.01,245.97 95.05,246.76 95.08,247.50 95.11,248.18 95.15,248.81 95.18,249.41 95.22,249.98 95.26,250.52 95.30,251.05 95.34,251.58 95.38,252.11 95.43,252.65 95.47,253.22 95.52,253.83 95.57,254.48 95.61,255.20 95.67,255.99 95.72,256.86 95.77,257.83 95.83,258.89 95.89,260.03 95.94,261.25 96.01,262.55 96.07,263.91 96.13,265.34 96.20,266.82 96.27,268.35 96.34,269.92 96.42,271.53 96.49,273.16 96.57,274.82 96.65,276.49 96.73,278.16 96.82,279.83 96.91,281.50 97.00,283.16 97.10,284.83 97.19,286.49 97.29,288.15 97.40,289.81 97.50,291.47 97.61,293.12 97.73,294.78 97.85,296.42 97.97,298.07 98.09,299.72 98.22,301.36 98.35,303.00 98.49,304.63 98.63,306.26 98.78,307.89 98.93,309.52 99.08,311.14 99.24,312.76 99.41,314.38 99.58,315.99 99.75,317.60 99.94,319.21 100.12,320.81 100.32,322.41 100.51,324.01 100.72,325.60 100.93,327.19 101.15,328.78 101.37,330.36 101.61,331.94 101.85,333.52 102.09,335.10 102.35,336.67 102.61,338.24 105.05,350.79 107.50,360.73 109.94,368.97 112.38,376.01 114.82,382.16 117.27,387.63 119.71,392.54 122.15,397.01 124.59,401.12 127.04,404.91 129.48,408.44 131.92,411.74 134.37,414.84 136.81,417.76 139.25,420.53 141.69,423.16 144.14,425.66 146.58,428.05 149.02,430.34 151.46,432.53 153.91,434.64 156.35,436.66 158.79,438.62 161.23,440.51 163.68,442.33 166.12,444.10 168.56,445.81 171.01,447.48 173.45,449.09 175.89,450.66 178.33,452.19 180.78,453.67 183.22,455.12 185.66,456.54 188.10,457.92 190.55,459.26 192.99,460.58 195.43,461.87 197.87,463.13 200.32,464.36 202.76,465.57 205.20,466.75 207.65,467.91 210.09,469.04 212.53,470.16 214.97,471.25 217.42,472.33 219.86,473.38 222.30,474.42 224.74,475.43 227.19,476.43 229.63,477.42 232.07,478.39 234.51,479.34 236.96,480.28 239.40,481.20 241.84,482.11 244.29,483.00 246.73,483.88 249.17,484.75 251.61,485.61 254.06,486.45 256.50,487.28 258.94,488.10 261.38,488.91 263.83,489.71 266.27,490.50 268.71,491.28 271.15,492.05 273.60,492.81 276.04,493.55 278.48,494.29 280.93,495.03 283.37,495.75 285.81,496.46 288.25,497.17 290.70,497.86 293.14,498.55 295.58,499.23 298.02,499.91 300.47,500.57 302.91,501.23 305.35,501.88 307.79,502.53 310.24,503.17 312.68,503.80 315.12,504.43 317.57,505.04 320.01,505.66 322.45,506.26 324.89,506.86 327.34,507.46 329.78,508.05 332.22,508.63 334.66,509.21 337.11,509.78 339.55,510.35 341.99,510.91 344.43,511.47 346.88,512.02 349.32,512.57 351.76,513.11 354.21,513.65 356.65,514.18 359.09,514.71 361.53,515.23 363.98,515.75 366.42,516.27 368.86,516.78 371.30,517.29 373.75,517.79 376.19,518.29 378.63,518.78 381.07,519.27 383.52,519.76 385.96,520.24 388.40,520.72 390.85,521.20 393.29,521.67 395.73,522.14 398.17,522.60 400.62,523.06 403.06,523.52 405.50,523.98 407.94,524.43 410.39,524.87 412.83,525.32 415.27,525.76 417.71,526.20 420.16,526.64 422.60,527.07 425.04,527.50 427.49,527.92 429.93,528.35 432.37,528.77 434.81,529.19 437.26,529.60 439.70,530.02 442.14,530.43 444.58,530.83 447.03,531.24 449.47,531.64 451.91,532.04 454.35,532.44 456.80,532.83 459.24,533.22 461.68,533.61 464.12,534.00 466.57,534.38 469.01,534.77 471.45,535.15 473.90,535.53 476.34,535.90 478.78,536.27 481.22,536.65 483.67,537.02 486.11,537.38 488.55,537.75 490.99,538.11 493.44,538.47 495.88,538.83 498.32,539.19 500.76,539.54 503.21,539.89 505.65,540.24 508.09,540.59 510.54,540.94 512.98,541.28 515.42,541.63 517.86,541.97 520.31,542.31 522.75,542.65 525.19,542.98 527.63,543.32 530.08,543.65 532.52,543.98 534.96,544.31 537.40,544.63 539.85,544.96 542.29,545.28 544.73,545.61 547.18,545.93 549.62,546.25 552.06,546.56 554.50,546.88 556.95,547.19 559.39,547.51 561.83,547.82 564.27,548.13 566.72,548.44 569.16,548.74 571.60,549.05 574.04,549.35 576.49,549.65 578.93,549.96 581.37,550.25 583.82,550.55 586.26,550.85 588.70,551.15 591.14,551.44 593.59,551.73 596.03,552.02 598.47,552.31 600.91,552.60 603.36,552.89 605.80,553.18 608.24,553.46 610.68,553.74 613.13,554.03 615.57,554.31 618.01,554.59 620.46,554.87 622.90,555.14 625.34,555.42 627.78,555.70 630.23,555.97 632.67,556.24 635.11,556.51 637.55,556.79 640.00,557.05 642.44,557.32 644.88,557.59 647.32,557.86 649.77,558.12 652.21,558.39 654.65,558.65 657.10,558.91 659.54,559.17 661.98,559.43 664.42,559.69 666.87,559.95 669.31,560.20 671.75,560.46 674.19,560.71 676.64,560.97 679.08,561.22 681.52,561.47 683.96,561.72 686.41,561.97 688.85,562.22 691.29,562.47 693.74,562.71 696.18,562.96 698.62,563.21 701.06,563.45 703.51,563.69 705.95,563.93 708.39,564.18 710.83,564.42 713.28,564.66 715.72,564.89 718.16,565.13 720.60,565.37 723.05,565.60 725.49,565.84 727.93,566.07 730.38,566.31 732.82,566.54 735.26,566.77 737.70,567.00 740.15,567.23 742.59,567.46 745.03,567.69 747.47,567.92 749.92,568.15 752.36,568.37 754.80,568.60 757.24,568.82 759.69,569.05 762.13,569.27 764.57,569.49 767.02,569.71 769.46,569.93 771.90,570.15 774.34,570.37 776.79,570.59 779.23,570.81 781.67,571.03 784.11,571.24 786.56,571.46 789.00,571.67 791.44,571.89 793.88,572.10 796.33,572.32 798.77,572.53 801.21,572.74 803.65,572.95 806.10,573.16 808.54,573.37 810.98,573.58 813.43,573.79 815.87,573.99 818.31,574.20 820.75,574.41 823.20,574.61 825.64,574.82 828.08,575.02 830.52,575.23 832.97,575.43 835.41,575.63 837.85,575.83 840.29,576.03 842.74,576.23 845.18,576.43 847.62,576.63 850.07,576.83 852.51,577.03 854.95,577.23 857.39,577.42 859.84,577.62 862.28,577.82 864.72,578.01 867.16,578.21 869.61,578.40 872.05,578.59 874.49,578.79 876.93,578.98 879.38,579.17 881.82,579.36 884.26,579.55 886.71,579.74 889.15,579.93 891.59,580.12 894.03,580.31 896.48,580.50 898.92,580.69 901.36,580.87 903.80,581.06 906.25,581.24 908.69,581.43 911.13,581.61 913.57,581.80 916.02,581.98 918.46,582.17 920.90,582.35 923.35,582.53 925.79,582.71 928.23,582.89 930.67,583.07 933.12,583.25 935.56,583.43 938.00,583.61 940.44,583.79 942.89,583.97 945.33,584.15 947.77,584.33 950.21,584.50 952.66,584.68 955.10,584.85" fill="none" stroke="#E9625B" stroke-width="1.80" stroke-linejoin="round"/>
<polyline points="94.15,-40.14 94.15,-43.56 94.16,-48.30 94.16,-52.29 94.17,-55.52 94.17,-57.97 94.18,-59.62 94.18,-60.48 94.19,-60.53 94.20,-59.79 94.20,-58.24 94.21,-55.92 94.22,-52.84 94.22,-49.02 94.23,-44.51 94.24,-39.36 94.24,-33.61 94.25,-27.33 94.26,-20.61 94.27,-13.53 94.28,-6.20 94.28,1.26 94.29,8.73 94.30,16.04 94.31,23.09 94.32,29.86 94.33,36.36 94.34,42.57 94.35,48.51 94.36,54.16 94.38,59.55 94.39,64.66 94.40,69.52 94.41,74.13 94.43,78.50 94.44,82.66 94.45,86.62 94.47,90.41 94.48,94.04 94.50,97.56 94.51,100.99 94.53,104.33 94.55,107.59 94.56,110.76 94.58,113.83 94.60,116.82 94.62,119.71 94.64,122.50 94.66,125.19 94.68,127.78 94.70,130.27 94.72,132.65 94.74,134.94 94.77,137.12 94.79,139.19 94.82,141.17 94.84,143.04 94.87,144.82 94.90,146.49 94.92,148.08 94.95,149.56 94.98,150.96 95.01,152.28 95.05,153.51 95.08,154.66 95.11,155.75 95.15,156.76 95.18,157.72 95.22,158.62 95.26,159.48 95.30,160.29 95.34,161.08 95.38,161.84 95.43,162.59 95.47,163.33 95.52,164.08 95.57,164.85 95.61,165.64 95.67,166.48 95.72,167.36 95.77,168.31 95.83,169.34 95.89,170.44 95.94,171.62 96.01,172.87 96.07,174.17 96.13,175.52 96.20,176.90 96.27,178.32 96.34,179.76 96.42,181.21 96.49,182.67 96.57,184.11 96.65,185.53 96.73,186.92 96.82,188.26 96.91,189.55 97.00,190.78 97.10,191.95 97.19,193.07 97.29,194.16 97.40,195.21 97.50,196.24 97.61,197.27 97.73,198.29 97.85,199.32 97.97,200.37 98.09,201.45 98.22,202.58 98.35,203.75 98.49,204.99 98.63,206.31 98.78,207.71 98.93,209.22 99.08,210.83 99.24,212.57 99.41,214.44 99.58,216.44 99.75,218.55 99.94,220.76 100.12,223.03 100.32,225.36 100.51,227.72 100.72,230.09 100.93,232.46 101.15,234.79 101.37,237.08 101.61,239.30 101.85,241.43 102.09,243.47 102.35,245.41 102.61,247.28 105.05,260.09 107.50,269.15 109.94,276.62 112.38,282.98 114.82,288.52 117.27,293.43 119.71,297.84 122.15,301.85 124.59,305.53 127.04,308.93 129.48,312.08 131.92,315.03 134.37,317.80 136.81,320.42 139.25,322.89 141.69,325.24 144.14,327.48 146.58,329.62 149.02,331.66 151.46,333.62 153.91,335.51 156.35,337.32 158.79,339.07 161.23,340.76 163.68,342.40 166.12,343.98 168.56,345.52 171.01,347.01 173.45,348.45 175.89,349.86 178.33,351.23 180.78,352.57 183.22,353.87 185.66,355.14 188.10,356.38 190.55,357.59 192.99,358.78 195.43,359.94 197.87,361.07 200.32,362.19 202.76,363.28 205.20,364.35 207.65,365.39 210.09,366.42 212.53,367.43 214.97,368.42 217.42,369.40 219.86,370.36 222.30,371.30 224.74,372.23 227.19,373.14 229.63,374.04 232.07,374.92 234.51,375.79 236.96,376.65 239.40,377.49 241.84,378.33 244.29,379.15 246.73,379.96 249.17,380.76 251.61,381.54 254.06,382.32 256.50,383.09 258.94,383.84 261.38,384.59 263.83,385.33 266.27,386.05 268.71,386.77 271.15,387.48 273.60,388.18 276.04,388.88 278.48,389.56 280.93,390.24 283.37,390.91 285.81,391.57 288.25,392.22 290.70,392.87 293.14,393.51 295.58,394.14 298.02,394.77 300.47,395.39 302.91,396.00 305.35,396.61 307.79,397.21 310.24,397.80 312.68,398.39 315.12,398.97 317.57,399.55 320.01,400.12 322.45,400.69 324.89,401.25 327.34,401.80 329.78,402.35 332.22,402.90 334.66,403.44 337.11,403.97 339.55,404.50 341.99,405.03 344.43,405.55 346.88,406.06 349.32,406.57 351.76,407.08 354.21,407.58 356.65,408.08 359.09,408.58 361.53,409.07 363.98,409.55 366.42,410.04 368.86,410.51 371.30,410.99 373.75,411.46 376.19,411.93 378.63,412.39 381.07,412.85 383.52,413.30 385.96,413.76 388.40,414.21 390.85,414.65 393.29,415.09 395.73,415.53 398.17,415.97 400.62,416.40 403.06,416.83 405.50,417.26 407.94,417.68 410.39,418.10 412.83,418.52 415.27,418.93 417.71,419.35 420.16,419.75 422.60,420.16 425.04,420.56 427.49,420.96 429.93,421.36 432.37,421.76 434.81,422.15 437.26,422.54 439.70,422.93 442.14,423.31 444.58,423.69 447.03,424.07 449.47,424.45 451.91,424.83 454.35,425.20 456.80,425.57 459.24,425.94 461.68,426.30 464.12,426.67 466.57,427.03 469.01,427.39 471.45,427.75 473.90,428.10 476.34,428.45 478.78,428.81 481.22,429.15 483.67,429.50 486.11,429.85 488.55,430.19 490.99,430.53 493.44,430.87 495.88,431.20 498.32,431.54 500.76,431.87 503.21,432.20 505.65,432.53 508.09,432.86 510.54,433.19 512.98,433.51 515.42,433.83 517.86,434.15 520.31,434.47 522.75,434.79 525.19,435.10 527.63,435.42 530.08,435.73 532.52,436.04 534.96,436.35 537.40,436.66 539.85,436.96 542.29,437.27 544.73,437.57 547.18,437.87 549.62,438.17 552.06,438.47 554.50,438.77 556.95,439.06 559.39,439.35 561.83,439.65 564.27,439.94 566.72,440.23 569.16,440.51 571.60,440.80 574.04,441.09 576.49,441.37 578.93,441.65 581.37,441.93 583.82,442.21 586.26,442.49 588.70,442.77 591.14,443.05 593.59,443.32 596.03,443.59 598.47,443.87 600.91,444.14 603.36,444.41 605.80,444.68 608.24,444.94 610.68,445.21 613.13,445.47 615.57,445.74 618.01,446.00 620.46,446.26 622.90,446.52 625.34,446.78 627.78,447.04 630.23,447.30 632.67,447.55 635.11,447.81 637.55,448.06 640.00,448.31 642.44,448.56 644.88,448.81 647.32,449.06 649.77,449.31 652.21,449.56 654.65,449.81 657.10,450.05 659.54,450.30 661.98,450.54 664.42,450.78 666.87,451.02 669.31,451.26 671.75,451.50 674.19,451.74 676.64,451.98 679.08,452.21 681.52,452.45 683.96,452.68 686.41,452.92 688.85,453.15 691.29,453.38 693.74,453.61 696.18,453.84 698.62,454.07 701.06,454.30 703.51,454.53 705.95,454.76 708.39,454.98 710.83,455.21 713.28,455.43 715.72,455.65 718.16,455.88 720.60,456.10 723.05,456.32 725.49,456.54 727.93,456.76 730.38,456.98 732.82,457.19 735.26,457.41 737.70,457.63 740.15,457.84 742.59,458.06 745.03,458.27 747.47,458.48 749.92,458.70 752.36,458.91 754.80,459.12 757.24,459.33 759.69,459.54 762.13,459.74 764.57,459.95 767.02,460.16 769.46,460.37 771.90,460.57 774.34,460.78 776.79,460.98 779.23,461.18 781.67,461.39 784.11,461.59 786.56,461.79 789.00,461.99 791.44,462.19 793.88,462.39 796.33,462.59 798.77,462.79 801.21,462.98 803.65,463.18 806.10,463.38 808.54,463.57 810.98,463.77 813.43,463.96 815.87,464.15 818.31,464.35 820.75,464.54 823.20,464.73 825.64,464.92 828.08,465.11 830.52,465.30 832.97,465.49 835.41,465.68 837.85,465.87 840.29,466.06 842.74,466.24 845.18,466.43 847.62,466.61 850.07,466.80 852.51,466.98 854.95,467.17 857.39,467.35 859.84,467.53 862.28,467.72 864.72,467.90 867.16,468.08 869.61,468.26 872.05,468.44 874.49,468.62 876.93,468.80 879.38,468.98 881.82,469.15 884.26,469.33 886.71,469.51 889.15,469.68 891.59,469.86 894.03,470.04 896.48,470.21 898.92,470.39 901.36,470.56 903.80,470.73 906.25,470.90 908.69,471.08 911.13,471.25 913.57,471.42 916.02,471.59 918.46,471.76 920.90,471.93 923.35,472.10 925.79,472.27 928.23,472.44 930.67,472.60 933.12,472.77 935.56,472.94 938.00,473.11 940.44,473.27 942.89,473.44 945.33,473.60 947.77,473.77 950.21,473.93 952.66,474.09 955.10,474.26" fill="none" stroke="#E9625B" stroke-width="1.80" stroke-linejoin="round"/>
<polyline points="94.05,320.57 94.05,320.60 94.05,320.92 94.05,321.26 94.06,321.61 94.06,321.96 94.06,322.33 94.06,322.70 94.06,323.09 94.06,323.48 94.07,323.89 94.07,324.31 94.07,324.74 94.07,325.18 94.07,325.63 94.08,326.09 94.08,326.57 94.08,327.05 94.08,327.56 94.09,328.07 94.09,328.60 94.09,329.14 94.10,329.69 94.10,330.26 94.10,330.84 94.11,331.43 94.11,332.05 94.11,332.67 94.12,333.31 94.12,333.97 94.12,334.64 94.13,335.32 94.13,336.03 94.14,336.74 94.14,337.48 94.14,338.23 94.15,339.00 94.15,339.78 94.16,340.59 94.16,341.40 94.17,342.24 94.17,343.09 94.18,343.96 94.18,344.85 94.19,345.76 94.20,346.68 94.20,347.62 94.21,348.58 94.22,349.56 94.22,350.55 94.23,351.56 94.24,352.59 94.24,353.64 94.25,354.71 94.26,355.79 94.27,356.89 94.28,358.00 94.28,359.13 94.29,360.28 94.30,361.45 94.31,362.63 94.32,363.82 94.33,365.04 94.34,366.26 94.35,367.50 94.36,368.75 94.38,370.02 94.39,371.30 94.40,372.59 94.41,373.89 94.43,375.21 94.44,376.53 94.45,377.86 94.47,379.20 94.48,380.55 94.50,381.91 94.51,383.27 94.53,384.63 94.55,386.00 94.56,387.37 94.58,388.74 94.60,390.11 94.62,391.48 94.64,392.85 94.66,394.21 94.68,395.57 94.70,396.92 94.72,398.26 94.74,399.59 94.77,400.92 94.79,402.23 94.82,403.52 94.84,404.80 94.87,406.06 94.90,407.30 94.92,408.52 94.95,409.72 94.98,410.89 95.01,412.04 95.05,413.17 95.08,414.28 95.11,415.36 95.15,416.42 95.18,417.45 95.22,418.46 95.26,419.45 95.30,420.42 95.34,421.37 95.38,422.29 95.43,423.19 95.47,424.07 95.52,424.94 95.57,425.78 95.61,426.60 95.67,427.41 95.72,428.20 95.77,428.97 95.83,429.73 95.89,430.48 95.94,431.21 96.01,431.93 96.07,432.65 96.13,433.36 96.20,434.06 96.27,434.75 96.34,435.45 96.42,436.14 96.49,436.83 96.57,437.53 96.65,438.23 96.73,438.94 96.82,439.65 96.91,440.38 97.00,441.12 97.10,441.87 97.19,442.64 97.29,443.42 97.40,444.21 97.50,445.02 97.61,445.83 97.73,446.66 97.85,447.50 97.97,448.35 98.09,449.22 98.22,450.09 98.35,450.98 98.49,451.88 98.63,452.79 98.78,453.71 98.93,454.64 99.08,455.58 99.24,456.53 99.41,457.49 99.58,458.46 99.75,459.44 99.94,460.43 100.12,461.43 100.32,462.44 100.51,463.46 100.72,464.48 100.93,465.52 101.15,466.56 101.37,467.60 101.61,468.66 101.85,469.72 102.09,470.79 102.35,471.87 102.61,472.95 105.05,481.88 107.50,489.21 109.94,495.39 112.38,500.73 114.82,505.43 117.27,509.63 119.71,513.42 122.15,516.89 124.59,520.07 127.04,523.02 129.48,525.76 131.92,528.33 134.37,530.75 136.81,533.02 139.25,535.18 141.69,537.22 144.14,539.17 146.58,541.03 149.02,542.80 151.46,544.50 153.91,546.13 156.35,547.70 158.79,549.21 161.23,550.67 163.68,552.08 166.12,553.43 168.56,554.75 171.01,556.02 173.45,557.26 175.89,558.46 178.33,559.63 180.78,560.76 183.22,561.86 185.66,562.93 188.10,563.98 190.55,565.00 192.99,565.99 195.43,566.96 197.87,567.90 200.32,568.83 202.76,569.73 205.20,570.61 207.65,571.47 210.09,572.31 212.53,573.13 214.97,573.93 217.42,574.72 219.86,575.49 222.30,576.24 224.74,576.98 227.19,577.70 229.63,578.41 232.07,579.10 234.51,579.78 236.96,580.45 239.40,581.10 241.84,581.74 244.29,582.37 246.73,582.99 249.17,583.59 251.61,584.19 254.06,584.77 256.50,585.35 258.94,585.91 261.38,586.46 263.83,587.01 266.27,587.54 268.71,588.07 271.15,588.59 273.60,589.09 276.04,589.59 278.48,590.09 280.93,590.57 283.37,591.04 285.81,591.51 288.25,591.97 290.70,592.43 293.14,592.87 295.58,593.31 298.02,593.75 300.47,594.17 302.91,594.59 305.35,595.01 307.79,595.42 310.24,595.82 312.68,596.21 315.12,596.60 317.57,596.99 320.01,597.37 322.45,597.74 324.89,598.11 327.34,598.47 329.78,598.83 332.22,599.18 334.66,599.53 337.11,599.87 339.55,600.21 341.99,600.55 344.43,600.88 346.88,601.20 349.32,601.52 351.76,601.84 354.21,602.15 356.65,602.46 359.09,602.76 361.53,603.06 363.98,603.36 366.42,603.65 368.86,603.94 371.30,604.23 373.75,604.51 376.19,604.79 378.63,605.06 381.07,605.34 383.52,605.60 385.96,605.87 388.40,606.13 390.85,606.39 393.29,606.65 395.73,606.90 398.17,607.15 400.62,607.39 403.06,607.64 405.50,607.88 407.94,608.12 410.39,608.35 412.83,608.58 415.27,608.81 417.71,609.04 420.16,609.26 422.60,609.49 425.04,609.70 427.49,609.92 429.93,610.14 432.37,610.35 434.81,610.56 437.26,610.76 439.70,610.97 442.14,611.17 444.58,611.37 447.03,611.57 449.47,611.77 451.91,611.96 454.35,612.15 456.80,612.34 459.24,612.53 461.68,612.71 464.12,612.90 466.57,613.08 469.01,613.26 471.45,613.44 473.90,613.61 476.34,613.78 478.78,613.96 481.22,614.13 483.67,614.30 486.11,614.46 488.55,614.63 490.99,614.79 493.44,614.95 495.88,615.11 498.32,615.27 500.76,615.43 503.21,615.58 505.65,615.73 508.09,615.88 510.54,616.03 512.98,616.18 515.42,616.33 517.86,616.48 520.31,616.62 522.75,616.76 525.19,616.90 527.63,617.04 530.08,617.18 532.52,617.32 534.96,617.45 537.40,617.59 539.85,617.72 542.29,617.85 544.73,617.98 547.18,618.11 549.62,618.24 552.06,618.37 554.50,618.49 556.95,618.61 559.39,618.74 561.83,618.86 564.27,618.98 566.72,619.10 569.16,619.22 571.60,619.33 574.04,619.45 576.49,619.56 578.93,619.68 581.37,619.79 583.82,619.90 586.26,620.01 588.70,620.12 591.14,620.23 593.59,620.33 596.03,620.44 598.47,620.54 600.91,620.65 603.36,620.75 605.80,620.85 608.24,620.95 610.68,621.05 613.13,621.15 615.57,621.25 618.01,621.35 620.46,621.44 622.90,621.54 625.34,621.63 627.78,621.73 630.23,621.82 632.67,621.91 635.11,622.00 637.55,622.09 640.00,622.18 642.44,622.27 644.88,622.35 647.32,622.44 649.77,622.53 652.21,622.61 654.65,622.69 657.10,622.78 659.54,622.86 661.98,622.94 664.42,623.02 666.87,623.10 669.31,623.18 671.75,623.26 674.19,623.34 676.64,623.41 679.08,623.49 681.52,623.57 683.96,623.64 686.41,623.72 688.85,623.79 691.29,623.86 693.74,623.93 696.18,624.00 698.62,624.08 701.06,624.14 703.51,624.21 705.95,624.28 708.39,624.35 710.83,624.42 713.28,624.48 715.72,624.55 718.16,624.62 720.60,624.68 723.05,624.74 725.49,624.81 727.93,624.87 730.38,624.93 732.82,625.00 735.26,625.06 737.70,625.12 740.15,625.18 742.59,625.24 745.03,625.29 747.47,625.35 749.92,625.41 752.36,625.47 754.80,625.52 757.24,625.58 759.69,625.64 762.13,625.69 764.57,625.74 767.02,625.80 769.46,625.85 771.90,625.90 774.34,625.96 776.79,626.01 779.23,626.06 781.67,626.11 784.11,626.16 786.56,626.21 789.00,626.26 791.44,626.31 793.88,626.36 796.33,626.40 798.77,626.45 801.21,626.50 803.65,626.54 806.10,626.59 808.54,626.63 810.98,626.68 813.43,626.72 815.87,626.77 818.31,626.81 820.75,626.85 823.20,626.90 825.64,626.94 828.08,626.98 830.52,627.02 832.97,627.06 835.41,627.10 837.85,627.14 840.29,627.18 842.74,627.22 845.18,627.26 847.62,627.30 850.07,627.34 852.51,627.38 854.95,627.41 857.39,627.45 859.84,627.49 862.28,627.52 864.72,627.56 867.16,627.59 869.61,627.63 872.05,627.66 874.49,627.70 876.93,627.73 879.38,627.76 881.82,627.80 884.26,627.83 886.71,627.86 889.15,627.89 891.59,627.92 894.03,627.96 896.48,627.99 898.92,628.02 901.36,628.05 903.80,628.08 906.25,628.11 908.69,628.13 911.13,628.16 913.57,628.19 916.02,628.22 918.46,628.25 920.90,628.28 923.35,628.30 925.79,628.33 928.23,628.36 930.67,628.38 933.12,628.41 935.56,628.43 938.00,628.46 940.44,628.48 942.89,628.51 945.33,628.53 947.77,628.56 950.21,628.58 952.66,628.60 955.10,628.63" fill="none" stroke="#08B4BA" stroke-width="1.80" stroke-linejoin="round"/>
<polyline points="94.10,481.13 94.10,481.63 94.11,482.34 94.11,483.05 94.11,483.77 94.12,484.51 94.12,485.26 94.12,486.02 94.13,486.79 94.13,487.57 94.14,488.36 94.14,489.16 94.14,489.97 94.15,490.79 94.15,491.62 94.16,492.46 94.16,493.31 94.17,494.16 94.17,495.03 94.18,495.90 94.18,496.77 94.19,497.65 94.20,498.54 94.20,499.43 94.21,500.33 94.22,501.23 94.22,502.13 94.23,503.03 94.24,503.94 94.24,504.85 94.25,505.75 94.26,506.66 94.27,507.56 94.28,508.46 94.28,509.36 94.29,510.25 94.30,511.14 94.31,512.02 94.32,512.89 94.33,513.76 94.34,514.61 94.35,515.46 94.36,516.29 94.38,517.12 94.39,517.93 94.40,518.73 94.41,519.51 94.43,520.27 94.44,521.02 94.45,521.76 94.47,522.47 94.48,523.17 94.50,523.84 94.51,524.50 94.53,525.13 94.55,525.75 94.56,526.34 94.58,526.90 94.60,527.45 94.62,527.97 94.64,528.46 94.66,528.93 94.68,529.38 94.70,529.80 94.72,530.20 94.74,530.57 94.77,530.92 94.79,531.24 94.82,531.54 94.84,531.82 94.87,532.07 94.90,532.30 94.92,532.51 94.95,532.69 94.98,532.86 95.01,533.01 95.05,533.14 95.08,533.25 95.11,533.35 95.15,533.43 95.18,533.51 95.22,533.57 95.26,533.62 95.30,533.67 95.34,533.71 95.38,533.75 95.43,533.79 95.47,533.84 95.52,533.89 95.57,533.95 95.61,534.02 95.67,534.10 95.72,534.20 95.77,534.31 95.83,534.44 95.89,534.57 95.94,534.72 96.01,534.89 96.07,535.07 96.13,535.26 96.20,535.47 96.27,535.68 96.34,535.92 96.42,536.16 96.49,536.42 96.57,536.69 96.65,536.97 96.73,537.27 96.82,537.58 96.91,537.90 97.00,538.23 97.10,538.57 97.19,538.93 97.29,539.30 97.40,539.68 97.50,540.06 97.61,540.46 97.73,540.87 97.85,541.29 97.97,541.72 98.09,542.16 98.22,542.61 98.35,543.06 98.49,543.53 98.63,544.00 98.78,544.48 98.93,544.96 99.08,545.46 99.24,545.96 99.41,546.46 99.58,546.98 99.75,547.49 99.94,548.02 100.12,548.54 100.32,549.07 100.51,549.61 100.72,550.15 100.93,550.69 101.15,551.23 101.37,551.78 101.61,552.33 101.85,552.89 102.09,553.45 102.35,554.01 102.61,554.57 105.05,559.17 107.50,562.89 109.94,565.99 112.38,568.62 114.82,570.89 117.27,572.87 119.71,574.63 122.15,576.21 124.59,577.66 127.04,578.99 129.48,580.22 131.92,581.37 134.37,582.45 136.81,583.47 139.25,584.44 141.69,585.37 144.14,586.25 146.58,587.09 149.02,587.90 151.46,588.68 153.91,589.44 156.35,590.17 158.79,590.88 161.23,591.56 163.68,592.23 166.12,592.88 168.56,593.51 171.01,594.13 173.45,594.73 175.89,595.32 178.33,595.89 180.78,596.46 183.22,597.01 185.66,597.55 188.10,598.09 190.55,598.61 192.99,599.12 195.43,599.63 197.87,600.12 200.32,600.61 202.76,601.09 205.20,601.57 207.65,602.03 210.09,602.49 212.53,602.95 214.97,603.39 217.42,603.84 219.86,604.27 222.30,604.70 224.74,605.12 227.19,605.54 229.63,605.95 232.07,606.36 234.51,606.76 236.96,607.16 239.40,607.55 241.84,607.94 244.29,608.32 246.73,608.70 249.17,609.07 251.61,609.44 254.06,609.81 256.50,610.17 258.94,610.52 261.38,610.88 263.83,611.23 266.27,611.57 268.71,611.92 271.15,612.26 273.60,612.59 276.04,612.92 278.48,613.25 280.93,613.58 283.37,613.90 285.81,614.22 288.25,614.54 290.70,614.85 293.14,615.16 295.58,615.47 298.02,615.77 300.47,616.07 302.91,616.37 305.35,616.67 307.79,616.97 310.24,617.26 312.68,617.55 315.12,617.83 317.57,618.12 320.01,618.40 322.45,618.68 324.89,618.96 327.34,619.23 329.78,619.50 332.22,619.77 334.66,620.04 337.11,620.31 339.55,620.57 341.99,620.84 344.43,621.10 346.88,621.35 349.32,621.61 351.76,621.87 354.21,622.12 356.65,622.37 359.09,622.62 361.53,622.87 363.98,623.11 366.42,623.35 368.86,623.60 371.30,623.84 373.75,624.08 376.19,624.31 378.63,624.55 381.07,624.78 383.52,625.02 385.96,625.25 388.40,625.48 390.85,625.70 393.29,625.93 395.73,626.15 398.17,626.38 400.62,626.60 403.06,626.82 405.50,627.04 407.94,627.26 410.39,627.47 412.83,627.69 415.27,627.90 417.71,628.12 420.16,628.33 422.60,628.54 425.04,628.75 427.49,628.95 429.93,629.16 432.37,629.37 434.81,629.57 437.26,629.77 439.70,629.98 442.14,630.18 444.58,630.38 447.03,630.57 449.47,630.77 451.91,630.97 454.35,631.16 456.80,631.36 459.24,631.55 461.68,631.74 464.12,631.93 466.57,632.12 469.01,632.31 471.45,632.50 473.90,632.69 476.34,632.87 478.78,633.06 481.22,633.24 483.67,633.43 486.11,633.61 488.55,633.79 490.99,633.97 493.44,634.15 495.88,634.33 498.32,634.51 500.76,634.68 503.21,634.86 505.65,635.03 508.09,635.21 510.54,635.38 512.98,635.55 515.42,635.73 517.86,635.90 520.31,636.07 522.75,636.24 525.19,636.41 527.63,636.57 530.08,636.74 532.52,636.91 534.96,637.07 537.40,637.24 539.85,637.40 542.29,637.57 544.73,637.73 547.18,637.89 549.62,638.05 552.06,638.21 554.50,638.37 556.95,638.53 559.39,638.69 561.83,638.85 564.27,639.00 566.72,639.16 569.16,639.32 571.60,639.47 574.04,639.63 576.49,639.78 578.93,639.93 581.37,640.09 583.82,640.24 586.26,640.39 588.70,640.54 591.14,640.69 593.59,640.84 596.03,640.99 598.47,641.14 600.91,641.28 603.36,641.43 605.80,641.58 608.24,641.72 610.68,641.87 613.13,642.01 615.57,642.16 618.01,642.30 620.46,642.44 622.90,642.59 625.34,642.73 627.78,642.87 630.23,643.01 632.67,643.15 635.11,643.29 637.55,643.43 640.00,643.57 642.44,643.71 644.88,643.85 647.32,643.98 649.77,644.12 652.21,644.26 654.65,644.39 657.10,644.53 659.54,644.66 661.98,644.80 664.42,644.93 666.87,645.06 669.31,645.20 671.75,645.33 674.19,645.46 676.64,645.59 679.08,645.72 681.52,645.85 683.96,645.98 686.41,646.11 688.85,646.24 691.29,646.37 693.74,646.50 696.18,646.63 698.62,646.76 701.06,646.88 703.51,647.01 705.95,647.14 708.39,647.26 710.83,647.39 713.28,647.51 715.72,647.64 718.16,647.76 720.60,647.88 723.05,648.01 725.49,648.13 727.93,648.25 730.38,648.38 732.82,648.50 735.26,648.62 737.70,648.74 740.15,648.86 742.59,648.98 745.03,649.10 747.47,649.22 749.92,649.34 752.36,649.46 754.80,649.58 757.24,649.69 759.69,649.81 762.13,649.93 764.57,650.05 767.02,650.16 769.46,650.28 771.90,650.39 774.34,650.51 776.79,650.62 779.23,650.74 781.67,650.85 784.11,650.97 786.56,651.08 789.00,651.20 791.44,651.31 793.88,651.42 796.33,651.53 798.77,651.65 801.21,651.76 803.65,651.87 806.10,651.98 808.54,652.09 810.98,652.20 813.43,652.31 815.87,652.42 818.31,652.53 820.75,652.64 823.20,652.75 825.64,652.86 828.08,652.97 830.52,653.07 832.97,653.18 835.41,653.29 837.85,653.40 840.29,653.50 842.74,653.61 845.18,653.71 847.62,653.82 850.07,653.93 852.51,654.03 854.95,654.14 857.39,654.24 859.84,654.35 862.28,654.45 864.72,654.55 867.16,654.66 869.61,654.76 872.05,654.86 874.49,654.97 876.93,655.07 879.38,655.17 881.82,655.27 884.26,655.37 886.71,655.48 889.15,655.58 891.59,655.68 894.03,655.78 896.48,655.88 898.92,655.98 901.36,656.08 903.80,656.18 906.25,656.28 908.69,656.38 911.13,656.48 913.57,656.57 916.02,656.67 918.46,656.77 920.90,656.87 923.35,656.97 925.79,657.06 928.23,657.16 930.67,657.26 933.12,657.35 935.56,657.45 938.00,657.55 940.44,657.64 942.89,657.74 945.33,657.83 947.77,657.93 950.21,658.02 952.66,658.12 955.10,658.21" fill="none" stroke="#08B4BA" stroke-width="1.80" stroke-linejoin="round"/>
<polyline points="94.10,421.04 94.10,421.45 94.11,422.02 94.11,422.61 94.11,423.20 94.12,423.81 94.12,424.42 94.12,425.05 94.13,425.69 94.13,426.34 94.14,427.00 94.14,427.67 94.14,428.35 94.15,429.04 94.15,429.75 94.16,430.46 94.16,431.18 94.17,431.91 94.17,432.65 94.18,433.40 94.18,434.16 94.19,434.93 94.20,435.71 94.20,436.50 94.21,437.29 94.22,438.09 94.22,438.90 94.23,439.72 94.24,440.54 94.24,441.37 94.25,442.20 94.26,443.04 94.27,443.89 94.28,444.74 94.28,445.59 94.29,446.45 94.30,447.31 94.31,448.17 94.32,449.03 94.33,449.90 94.34,450.76 94.35,451.63 94.36,452.50 94.38,453.36 94.39,454.22 94.40,455.09 94.41,455.94 94.43,456.80 94.44,457.65 94.45,458.50 94.47,459.34 94.48,460.18 94.50,461.01 94.51,461.83 94.53,462.65 94.55,463.46 94.56,464.27 94.58,465.06 94.60,465.85 94.62,466.63 94.64,467.39 94.66,468.15 94.68,468.90 94.70,469.64 94.72,470.37 94.74,471.09 94.77,471.80 94.79,472.50 94.82,473.19 94.84,473.87 94.87,474.53 94.90,475.19 94.92,475.84 94.95,476.48 94.98,477.11 95.01,477.73 95.05,478.35 95.08,478.96 95.11,479.56 95.15,480.15 95.18,480.74 95.22,481.33 95.26,481.91 95.30,482.48 95.34,483.05 95.38,483.62 95.43,484.19 95.47,484.75 95.52,485.30 95.57,485.85 95.61,486.40 95.67,486.94 95.72,487.48 95.77,488.02 95.83,488.55 95.89,489.07 95.94,489.60 96.01,490.12 96.07,490.63 96.13,491.15 96.20,491.66 96.27,492.17 96.34,492.67 96.42,493.17 96.49,493.68 96.57,494.18 96.65,494.67 96.73,495.17 96.82,495.67 96.91,496.16 97.00,496.66 97.10,497.15 97.19,497.65 97.29,498.15 97.40,498.65 97.50,499.15 97.61,499.65 97.73,500.16 97.85,500.67 97.97,501.18 98.09,501.70 98.22,502.22 98.35,502.75 98.49,503.28 98.63,503.82 98.78,504.37 98.93,504.92 99.08,505.48 99.24,506.05 99.41,506.63 99.58,507.22 99.75,507.81 99.94,508.42 100.12,509.04 100.32,509.67 100.51,510.32 100.72,510.97 100.93,511.64 101.15,512.33 101.37,513.03 101.61,513.74 101.85,514.46 102.09,515.20 102.35,515.95 102.61,516.71 105.05,523.23 107.50,528.84 109.94,533.69 112.38,537.93 114.82,541.65 117.27,544.94 119.71,547.88 122.15,550.52 124.59,552.91 127.04,555.09 129.48,557.10 131.92,558.97 134.37,560.70 136.81,562.33 139.25,563.86 141.69,565.30 144.14,566.67 146.58,567.97 149.02,569.20 151.46,570.38 153.91,571.51 156.35,572.60 158.79,573.64 161.23,574.64 163.68,575.61 166.12,576.54 168.56,577.44 171.01,578.31 173.45,579.16 175.89,579.98 178.33,580.78 180.78,581.55 183.22,582.31 185.66,583.04 188.10,583.76 190.55,584.46 192.99,585.14 195.43,585.81 197.87,586.46 200.32,587.10 202.76,587.72 205.20,588.33 207.65,588.93 210.09,589.52 212.53,590.09 214.97,590.66 217.42,591.21 219.86,591.75 222.30,592.29 224.74,592.81 227.19,593.33 229.63,593.83 232.07,594.33 234.51,594.82 236.96,595.30 239.40,595.78 241.84,596.24 244.29,596.70 246.73,597.15 249.17,597.60 251.61,598.04 254.06,598.47 256.50,598.89 258.94,599.31 261.38,599.73 263.83,600.14 266.27,600.54 268.71,600.94 271.15,601.33 273.60,601.72 276.04,602.10 278.48,602.47 280.93,602.85 283.37,603.21 285.81,603.58 288.25,603.94 290.70,604.29 293.14,604.64 295.58,604.99 298.02,605.33 300.47,605.67 302.91,606.00 305.35,606.33 307.79,606.66 310.24,606.98 312.68,607.30 315.12,607.62 317.57,607.93 320.01,608.24 322.45,608.55 324.89,608.85 327.34,609.15 329.78,609.45 332.22,609.75 334.66,610.04 337.11,610.33 339.55,610.61 341.99,610.90 344.43,611.18 346.88,611.45 349.32,611.73 351.76,612.00 354.21,612.27 356.65,612.54 359.09,612.81 361.53,613.07 363.98,613.33 366.42,613.59 368.86,613.84 371.30,614.10 373.75,614.35 376.19,614.60 378.63,614.85 381.07,615.09 383.52,615.34 385.96,615.58 388.40,615.82 390.85,616.05 393.29,616.29 395.73,616.52 398.17,616.76 400.62,616.99 403.06,617.21 405.50,617.44 407.94,617.67 410.39,617.89 412.83,618.11 415.27,618.33 417.71,618.55 420.16,618.77 422.60,618.98 425.04,619.19 427.49,619.41 429.93,619.62 432.37,619.83 434.81,620.03 437.26,620.24 439.70,620.44 442.14,620.65 444.58,620.85 447.03,621.05 449.47,621.25 451.91,621.45 454.35,621.64 456.80,621.84 459.24,622.03 461.68,622.23 464.12,622.42 466.57,622.61 469.01,622.80 471.45,622.98 473.90,623.17 476.34,623.36 478.78,623.54 481.22,623.72 483.67,623.90 486.11,624.08 488.55,624.26 490.99,624.44 493.44,624.62 495.88,624.80 498.32,624.97 500.76,625.15 503.21,625.32 505.65,625.49 508.09,625.66 510.54,625.83 512.98,626.00 515.42,626.17 517.86,626.34 520.31,626.50 522.75,626.67 525.19,626.83 527.63,627.00 530.08,627.16 532.52,627.32 534.96,627.48 537.40,627.64 539.85,627.80 542.29,627.96 544.73,628.12 547.18,628.28 549.62,628.43 552.06,628.59 554.50,628.74 556.95,628.89 559.39,629.05 561.83,629.20 564.27,629.35 566.72,629.50 569.16,629.65 571.60,629.80 574.04,629.94 576.49,630.09 578.93,630.24 581.37,630.38 583.82,630.53 586.26,630.67 588.70,630.82 591.14,630.96 593.59,631.10 596.03,631.24 598.47,631.38 600.91,631.52 603.36,631.66 605.80,631.80 608.24,631.94 610.68,632.08 613.13,632.21 615.57,632.35 618.01,632.49 620.46,632.62 622.90,632.76 625.34,632.89 627.78,633.02 630.23,633.15 632.67,633.29 635.11,633.42 637.55,633.55 640.00,633.68 642.44,633.81 644.88,633.94 647.32,634.07 649.77,634.19 652.21,634.32 654.65,634.45 657.10,634.57 659.54,634.70 661.98,634.82 664.42,634.95 666.87,635.07 669.31,635.20 671.75,635.32 674.19,635.44 676.64,635.56 679.08,635.68 681.52,635.81 683.96,635.93 686.41,636.05 688.85,636.17 691.29,636.28 693.74,636.40 696.18,636.52 698.62,636.64 701.06,636.75 703.51,636.87 705.95,636.99 708.39,637.10 710.83,637.22 713.28,637.33 715.72,637.45 718.16,637.56 720.60,637.67 723.05,637.79 725.49,637.90 727.93,638.01 730.38,638.12 732.82,638.23 735.26,638.34 737.70,638.46 740.15,638.57 742.59,638.67 745.03,638.78 747.47,638.89 749.92,639.00 752.36,639.11 754.80,639.22 757.24,639.32 759.69,639.43 762.13,639.54 764.57,639.64 767.02,639.75 769.46,639.85 771.90,639.96 774.34,640.06 776.79,640.17 779.23,640.27 781.67,640.37 784.11,640.47 786.56,640.58 789.00,640.68 791.44,640.78 793.88,640.88 796.33,640.98 798.77,641.08 801.21,641.18 803.65,641.28 806.10,641.38 808.54,641.48 810.98,641.58 813.43,641.68 815.87,641.78 818.31,641.88 820.75,641.98 823.20,642.07 825.64,642.17 828.08,642.27 830.52,642.36 832.97,642.46 835.41,642.55 837.85,642.65 840.29,642.74 842.74,642.84 845.18,642.93 847.62,643.03 850.07,643.12 852.51,643.21 854.95,643.31 857.39,643.40 859.84,643.49 862.28,643.59 864.72,643.68 867.16,643.77 869.61,643.86 872.05,643.95 874.49,644.04 876.93,644.13 879.38,644.22 881.82,644.31 884.26,644.40 886.71,644.49 889.15,644.58 891.59,644.67 894.03,644.76 896.48,644.85 898.92,644.94 901.36,645.02 903.80,645.11 906.25,645.20 908.69,645.29 911.13,645.37 913.57,645.46 916.02,645.54 918.46,645.63 920.90,645.72 923.35,645.80 925.79,645.89 928.23,645.97 930.67,646.06 933.12,646.14 935.56,646.23 938.00,646.31 940.44,646.39 942.89,646.48 945.33,646.56 947.77,646.64 950.21,646.72 952.66,646.81 955.10,646.89" fill="none" stroke="#08B4BA" stroke-width="1.80" stroke-linejoin="round"/>
</g>
<line x1="1126.50" y1="754.42" x2="1987.40" y2="754.42" stroke="#EEEEEE" stroke-width="1.2"/>
<line x1="1126.50" y1="457.85" x2="1987.40" y2="457.85" stroke="#EEEEEE" stroke-width="1.2"/>
<line x1="1126.50" y1="161.28" x2="1987.40" y2="161.28" stroke="#EEEEEE" stroke-width="1.2"/>
<line x1="1234.11" y1="13.00" x2="1234.11" y2="902.70" stroke="#EEEEEE" stroke-width="1.2"/>
<line x1="1449.34" y1="13.00" x2="1449.34" y2="902.70" stroke="#EEEEEE" stroke-width="1.2"/>
<line x1="1664.56" y1="13.00" x2="1664.56" y2="902.70" stroke="#EEEEEE" stroke-width="1.2"/>
<line x1="1879.79" y1="13.00" x2="1879.79" y2="902.70" stroke="#EEEEEE" stroke-width="1.2"/>
<line x1="1126.50" y1="606.13" x2="1987.40" y2="606.13" stroke="#E5E5E5" stroke-width="1.6"/>
<line x1="1126.50" y1="309.57" x2="1987.40" y2="309.57" stroke="#E5E5E5" stroke-width="1.6"/>
<line x1="1341.72" y1="13.00" x2="1341.72" y2="902.70" stroke="#E5E5E5" stroke-width="1.6"/>
<line x1="1556.95" y1="13.00" x2="1556.95" y2="902.70" stroke="#E5E5E5" stroke-width="1.6"/>
<line x1="1772.18" y1="13.00" x2="1772.18" y2="902.70" stroke="#E5E5E5" stroke-width="1.6"/>
<g clip-path="url(#cb)">
<polygon points="1126.50,-2.24 1129.17,-0.58 1131.84,1.08 1134.51,2.75 1137.18,4.41 1139.85,6.08 1142.52,7.75 1145.18,9.42 1147.85,11.10 1150.52,12.78 1153.19,14.45 1155.86,16.13 1158.53,17.82 1161.20,19.50 1163.87,21.19 1166.54,22.87 1169.21,24.56 1171.88,26.25 1174.55,27.94 1177.22,29.64 1179.88,31.33 1182.55,33.03 1185.22,34.73 1187.89,36.42 1190.56,38.13 1193.23,39.83 1195.90,41.53 1198.57,43.23 1201.24,44.94 1203.91,46.65 1206.58,48.35 1209.25,50.06 1211.92,51.77 1214.58,53.48 1217.25,55.20 1219.92,56.91 1222.59,58.62 1225.26,60.34 1227.93,62.06 1230.60,63.77 1233.27,65.49 1235.94,67.21 1238.61,68.93 1241.28,70.65 1243.95,72.37 1246.62,74.09 1249.28,75.81 1251.95,77.53 1254.62,79.25 1257.29,80.98 1259.96,82.70 1262.63,84.43 1265.30,86.15 1267.97,87.87 1270.64,89.60 1273.31,91.33 1275.98,93.05 1278.65,94.78 1281.32,96.50 1283.98,98.23 1286.65,99.96 1289.32,101.68 1291.99,103.41 1294.66,105.14 1297.33,106.86 1300.00,108.59 1302.67,110.31 1305.34,112.04 1308.01,113.77 1310.68,115.49 1313.35,117.22 1316.02,118.94 1318.68,120.67 1321.35,122.39 1324.02,124.12 1326.69,125.84 1329.36,127.57 1332.03,129.29 1334.70,131.01 1337.37,132.73 1340.04,134.45 1342.71,136.17 1345.38,137.89 1348.05,139.61 1350.72,141.33 1353.38,143.05 1356.05,144.77 1358.72,146.48 1361.39,148.20 1364.06,149.91 1366.73,151.63 1369.40,153.34 1372.07,155.05 1374.74,156.76 1377.41,158.47 1380.08,160.18 1382.75,161.89 1385.42,163.60 1388.08,165.30 1390.75,167.00 1393.42,168.71 1396.09,170.41 1398.76,172.11 1401.43,173.81 1404.10,175.50 1406.77,177.20 1409.44,178.89 1412.11,180.59 1414.78,182.28 1417.45,183.97 1420.12,185.66 1422.78,187.35 1425.45,189.03 1428.12,190.72 1430.79,192.40 1433.46,194.09 1436.13,195.77 1438.80,197.45 1441.47,199.13 1444.14,200.81 1446.81,202.49 1449.48,204.16 1452.15,205.84 1454.82,207.51 1457.48,209.19 1460.15,210.86 1462.82,212.53 1465.49,214.20 1468.16,215.87 1470.83,217.54 1473.50,219.20 1476.17,220.87 1478.84,222.54 1481.51,224.20 1484.18,225.87 1486.85,227.53 1489.52,229.19 1492.18,230.85 1494.85,232.51 1497.52,234.17 1500.19,235.83 1502.86,237.49 1505.53,239.15 1508.20,240.80 1510.87,242.46 1513.54,244.12 1516.21,245.77 1518.88,247.43 1521.55,249.08 1524.22,250.73 1526.88,252.39 1529.55,254.04 1532.22,255.69 1534.89,257.34 1537.56,258.99 1540.23,260.64 1542.90,262.29 1545.57,263.94 1548.24,265.59 1550.91,267.24 1553.58,268.88 1556.25,270.53 1558.92,272.18 1561.58,273.82 1564.25,275.47 1566.92,277.12 1569.59,278.76 1572.26,280.41 1574.93,282.05 1577.60,283.70 1580.27,285.34 1582.94,286.99 1585.61,288.63 1588.28,290.28 1590.95,291.92 1593.62,293.56 1596.28,295.21 1598.95,296.85 1601.62,298.49 1604.29,300.14 1606.96,301.78 1609.63,303.42 1612.30,305.07 1614.97,306.71 1617.64,308.35 1620.31,310.00 1622.98,311.64 1625.65,313.28 1628.32,314.93 1630.98,316.57 1633.65,318.21 1636.32,319.86 1638.99,321.50 1641.66,323.15 1644.33,324.79 1647.00,326.44 1649.67,328.08 1652.34,329.73 1655.01,331.37 1657.68,333.02 1660.35,334.66 1663.02,336.31 1665.68,337.95 1668.35,339.60 1671.02,341.25 1673.69,342.90 1676.36,344.54 1679.03,346.19 1681.70,347.84 1684.37,349.49 1687.04,351.14 1689.71,352.79 1692.38,354.44 1695.05,356.09 1697.72,357.74 1700.38,359.40 1703.05,361.05 1705.72,362.70 1708.39,364.36 1711.06,366.01 1713.73,367.67 1716.40,369.32 1719.07,370.98 1721.74,372.64 1724.41,374.29 1727.08,375.95 1729.75,377.61 1732.42,379.27 1735.08,380.93 1737.75,382.59 1740.42,384.26 1743.09,385.92 1745.76,387.58 1748.43,389.25 1751.10,390.92 1753.77,392.58 1756.44,394.25 1759.11,395.92 1761.78,397.59 1764.45,399.26 1767.12,400.93 1769.78,402.60 1772.45,404.27 1775.12,405.95 1777.79,407.62 1780.46,409.30 1783.13,410.98 1785.80,412.66 1788.47,414.34 1791.14,416.02 1793.81,417.70 1796.48,419.38 1799.15,421.07 1801.82,422.75 1804.48,424.44 1807.15,426.13 1809.82,427.82 1812.49,429.51 1815.16,431.20 1817.83,432.89 1820.50,434.58 1823.17,436.28 1825.84,437.98 1828.51,439.67 1831.18,441.37 1833.85,443.08 1836.52,444.78 1839.18,446.48 1841.85,448.18 1844.52,449.89 1847.19,451.60 1849.86,453.30 1852.53,455.01 1855.20,456.72 1857.87,458.43 1860.54,460.13 1863.21,461.84 1865.88,463.55 1868.55,465.26 1871.22,466.96 1873.88,468.67 1876.55,470.38 1879.22,472.08 1881.89,473.78 1884.56,475.49 1887.23,477.19 1889.90,478.89 1892.57,480.59 1895.24,482.28 1897.91,483.98 1900.58,485.67 1903.25,487.36 1905.92,489.05 1908.58,490.73 1911.25,492.42 1913.92,494.10 1916.59,495.78 1919.26,497.45 1921.93,499.12 1924.60,500.79 1937.50,511.70 1950.00,520.50 1969.50,532.20 1987.40,539.30 1987.40,588.53 1984.52,587.92 1981.64,587.32 1978.76,586.72 1975.88,586.12 1973.00,585.52 1970.12,584.91 1967.25,584.31 1964.37,583.71 1961.49,583.11 1958.61,582.51 1955.73,581.91 1952.85,581.32 1949.97,580.72 1947.09,580.12 1944.21,579.52 1941.33,578.93 1938.45,578.33 1935.57,577.73 1932.69,577.14 1929.81,576.54 1926.94,575.95 1924.06,575.35 1921.18,574.76 1918.30,574.17 1915.42,573.57 1912.54,572.98 1909.66,572.39 1906.78,571.80 1903.90,571.21 1901.02,570.62 1898.14,570.02 1895.26,569.43 1892.38,568.85 1889.51,568.26 1886.63,567.67 1883.75,567.08 1880.87,566.49 1877.99,565.91 1875.11,565.32 1872.23,564.73 1869.35,564.15 1866.47,563.56 1863.59,562.98 1860.71,562.39 1857.83,561.81 1854.95,561.22 1852.07,560.64 1849.20,560.06 1846.32,559.48 1843.44,558.89 1840.56,558.31 1837.68,557.73 1834.80,557.15 1831.92,556.57 1829.04,555.99 1826.16,555.41 1823.28,554.83 1820.40,554.26 1817.52,553.68 1814.64,553.10 1811.76,552.53 1808.89,551.95 1806.01,551.37 1803.13,550.80 1800.25,550.22 1797.37,549.65 1794.49,549.07 1791.61,548.50 1788.73,547.93 1785.85,547.36 1782.97,546.78 1780.09,546.21 1777.21,545.64 1774.33,545.07 1771.46,544.50 1768.58,543.93 1765.70,543.36 1762.82,542.79 1759.94,542.22 1757.06,541.66 1754.18,541.09 1751.30,540.52 1748.42,539.95 1745.54,539.39 1742.66,538.82 1739.78,538.26 1736.90,537.69 1734.02,537.13 1731.15,536.57 1728.27,536.00 1725.39,535.44 1722.51,534.88 1719.63,534.32 1716.75,533.76 1713.87,533.19 1710.99,532.63 1708.11,532.07 1705.23,531.52 1702.35,530.96 1699.47,530.40 1696.59,529.84 1693.72,529.28 1690.84,528.73 1687.96,528.17 1685.08,527.61 1682.20,527.06 1679.32,526.50 1676.44,525.95 1673.56,525.40 1670.68,524.84 1667.80,524.29 1664.92,523.74 1662.04,523.18 1659.16,522.63 1656.28,522.08 1653.41,521.53 1650.53,520.98 1647.65,520.43 1644.77,519.88 1641.89,519.34 1639.01,518.79 1636.13,518.24 1633.25,517.69 1630.37,517.15 1627.49,516.60 1624.61,516.05 1621.73,515.51 1618.85,514.96 1615.97,514.42 1613.10,513.88 1610.22,513.33 1607.34,512.79 1604.46,512.25 1601.58,511.71 1598.70,511.17 1595.82,510.63 1592.94,510.09 1590.06,509.55 1587.18,509.01 1584.30,508.47 1581.42,507.93 1578.54,507.39 1575.67,506.86 1572.79,506.32 1569.91,505.78 1567.03,505.25 1564.15,504.71 1561.27,504.18 1558.39,503.65 1555.51,503.11 1552.63,502.58 1549.75,502.05 1546.87,501.52 1543.99,500.98 1541.11,500.45 1538.23,499.92 1535.36,499.39 1532.48,498.86 1529.60,498.33 1526.72,497.81 1523.84,497.28 1520.96,496.75 1518.08,496.22 1515.20,495.70 1512.32,495.17 1509.44,494.65 1506.56,494.12 1503.68,493.60 1500.80,493.08 1497.93,492.55 1495.05,492.03 1492.17,491.51 1489.29,490.99 1486.41,490.47 1483.53,489.94 1480.65,489.42 1477.77,488.91 1474.89,488.39 1472.01,487.87 1469.13,487.35 1466.25,486.83 1463.37,486.32 1460.49,485.80 1457.62,485.28 1454.74,484.77 1451.86,484.25 1448.98,483.74 1446.10,483.23 1443.22,482.71 1440.34,482.20 1437.46,481.69 1434.58,481.18 1431.70,480.67 1428.82,480.16 1425.94,479.65 1423.06,479.14 1420.18,478.63 1417.31,478.12 1414.43,477.61 1411.55,477.11 1408.67,476.60 1405.79,476.09 1402.91,475.59 1400.03,475.08 1397.15,474.58 1394.27,474.07 1391.39,473.57 1388.51,473.07 1385.63,472.57 1382.75,472.06 1379.88,471.56 1377.00,471.06 1374.12,470.56 1371.24,470.06 1368.36,469.56 1365.48,469.07 1362.60,468.57 1359.72,468.07 1356.84,467.57 1353.96,467.08 1351.08,466.58 1348.20,466.09 1345.32,465.59 1342.44,465.10 1339.57,464.60 1336.69,464.11 1333.81,463.62 1330.93,463.13 1328.05,462.64 1325.17,462.15 1322.29,461.66 1319.41,461.17 1316.53,460.68 1313.65,460.19 1310.77,459.70 1307.89,459.21 1305.01,458.73 1302.14,458.24 1299.26,457.75 1296.38,457.27 1293.50,456.79 1290.62,456.30 1287.74,455.82 1284.86,455.34 1281.98,454.85 1279.10,454.37 1276.22,453.89 1273.34,453.41 1270.46,452.93 1267.58,452.45 1264.70,451.97 1261.83,451.49 1258.95,451.02 1256.07,450.54 1253.19,450.06 1250.31,449.59 1247.43,449.11 1244.55,448.64 1241.67,448.16 1238.79,447.69 1235.91,447.21 1233.03,446.74 1230.15,446.27 1227.27,445.80 1224.39,445.33 1221.52,444.86 1218.64,444.39 1215.76,443.92 1212.88,443.45 1210.00,442.98 1207.12,442.51 1204.24,442.05 1201.36,441.58 1198.48,441.12 1195.60,440.65 1192.72,440.19 1189.84,439.72 1186.96,439.26 1184.09,438.80 1181.21,438.33 1178.33,437.87 1175.45,437.41 1172.57,436.95 1169.69,436.49 1166.81,436.03 1163.93,435.57 1161.05,435.12 1158.17,434.66 1155.29,434.20 1152.41,433.75 1149.53,433.29 1146.65,432.84 1143.78,432.38 1140.90,431.93 1138.02,431.47 1135.14,431.02 1132.26,430.57 1129.38,430.12 1126.50,429.67" fill="#F8766D" fill-opacity="0.2" stroke="none"/>
<polygon points="1126.50,548.30 1129.38,548.63 1132.26,548.96 1135.14,549.29 1138.02,549.61 1140.90,549.94 1143.78,550.27 1146.65,550.59 1149.53,550.92 1152.41,551.25 1155.29,551.57 1158.17,551.90 1161.05,552.23 1163.93,552.55 1166.81,552.88 1169.69,553.20 1172.57,553.53 1175.45,553.85 1178.33,554.18 1181.21,554.50 1184.09,554.83 1186.96,555.15 1189.84,555.48 1192.72,555.80 1195.60,556.13 1198.48,556.45 1201.36,556.78 1204.24,557.10 1207.12,557.42 1210.00,557.75 1212.88,558.07 1215.76,558.39 1218.64,558.72 1221.52,559.04 1224.39,559.36 1227.27,559.68 1230.15,560.01 1233.03,560.33 1235.91,560.65 1238.79,560.97 1241.67,561.29 1244.55,561.61 1247.43,561.93 1250.31,562.25 1253.19,562.58 1256.07,562.90 1258.95,563.22 1261.83,563.53 1264.70,563.85 1267.58,564.17 1270.46,564.49 1273.34,564.81 1276.22,565.13 1279.10,565.45 1281.98,565.77 1284.86,566.08 1287.74,566.40 1290.62,566.72 1293.50,567.04 1296.38,567.35 1299.26,567.67 1302.14,567.98 1305.01,568.30 1307.89,568.62 1310.77,568.93 1313.65,569.25 1316.53,569.56 1319.41,569.88 1322.29,570.19 1325.17,570.50 1328.05,570.82 1330.93,571.13 1333.81,571.44 1336.69,571.76 1339.57,572.07 1342.44,572.38 1345.32,572.69 1348.20,573.00 1351.08,573.32 1353.96,573.63 1356.84,573.94 1359.72,574.25 1362.60,574.56 1365.48,574.87 1368.36,575.18 1371.24,575.49 1374.12,575.79 1377.00,576.10 1379.88,576.41 1382.75,576.72 1385.63,577.02 1388.51,577.33 1391.39,577.64 1394.27,577.94 1397.15,578.25 1400.03,578.55 1402.91,578.86 1405.79,579.16 1408.67,579.47 1411.55,579.77 1414.43,580.08 1417.31,580.38 1420.18,580.68 1423.06,580.98 1425.94,581.29 1428.82,581.59 1431.70,581.89 1434.58,582.19 1437.46,582.49 1440.34,582.79 1443.22,583.09 1446.10,583.39 1448.98,583.69 1451.86,583.99 1454.74,584.28 1457.62,584.58 1460.49,584.88 1463.37,585.17 1466.25,585.47 1469.13,585.77 1472.01,586.06 1474.89,586.36 1477.77,586.65 1480.65,586.95 1483.53,587.24 1486.41,587.53 1489.29,587.83 1492.17,588.12 1495.05,588.41 1497.93,588.70 1500.80,588.99 1503.68,589.28 1506.56,589.57 1509.44,589.86 1512.32,590.15 1515.20,590.44 1518.08,590.73 1520.96,591.01 1523.84,591.30 1526.72,591.59 1529.60,591.87 1532.48,592.16 1535.36,592.44 1538.23,592.73 1541.11,593.01 1543.99,593.30 1546.87,593.58 1549.75,593.86 1552.63,594.15 1555.51,594.43 1558.39,594.71 1561.27,594.99 1564.15,595.27 1567.03,595.55 1569.91,595.83 1572.79,596.11 1575.67,596.38 1578.54,596.66 1581.42,596.94 1584.30,597.21 1587.18,597.49 1590.06,597.77 1592.94,598.04 1595.82,598.31 1598.70,598.59 1601.58,598.86 1604.46,599.13 1607.34,599.41 1610.22,599.68 1613.10,599.95 1615.97,600.22 1618.85,600.49 1621.73,600.76 1624.61,601.02 1627.49,601.29 1630.37,601.56 1633.25,601.83 1636.13,602.09 1639.01,602.36 1641.89,602.62 1644.77,602.89 1647.65,603.15 1650.53,603.41 1653.41,603.68 1656.28,603.94 1659.16,604.20 1662.04,604.46 1664.92,604.72 1667.80,604.98 1670.68,605.24 1673.56,605.50 1676.44,605.76 1679.32,606.01 1682.20,606.27 1685.08,606.52 1687.96,606.78 1690.84,607.03 1693.72,607.29 1696.59,607.54 1699.47,607.79 1702.35,608.04 1705.23,608.30 1708.11,608.55 1710.99,608.80 1713.87,609.05 1716.75,609.29 1719.63,609.54 1722.51,609.79 1725.39,610.04 1728.27,610.28 1731.15,610.53 1734.02,610.77 1736.90,611.01 1739.78,611.26 1742.66,611.50 1745.54,611.74 1748.42,611.98 1751.30,612.22 1754.18,612.46 1757.06,612.70 1759.94,612.94 1762.82,613.18 1765.70,613.41 1768.58,613.65 1771.46,613.88 1774.33,614.12 1777.21,614.35 1780.09,614.59 1782.97,614.82 1785.85,615.05 1788.73,615.28 1791.61,615.51 1794.49,615.74 1797.37,615.97 1800.25,616.20 1803.13,616.42 1806.01,616.65 1808.89,616.88 1811.76,617.10 1814.64,617.33 1817.52,617.55 1820.40,617.77 1823.28,617.99 1826.16,618.22 1829.04,618.44 1831.92,618.66 1834.80,618.87 1837.68,619.09 1840.56,619.31 1843.44,619.53 1846.32,619.74 1849.20,619.96 1852.07,620.17 1854.95,620.38 1857.83,620.60 1860.71,620.81 1863.59,621.02 1866.47,621.23 1869.35,621.44 1872.23,621.65 1875.11,621.85 1877.99,622.06 1880.87,622.27 1883.75,622.47 1886.63,622.68 1889.51,622.88 1892.38,623.08 1895.26,623.28 1898.14,623.48 1901.02,623.68 1903.90,623.88 1906.78,624.08 1909.66,624.28 1912.54,624.48 1915.42,624.67 1918.30,624.87 1921.18,625.06 1924.06,625.25 1926.94,625.45 1929.81,625.64 1932.69,625.83 1935.57,626.02 1938.45,626.21 1941.33,626.39 1944.21,626.58 1947.09,626.77 1949.97,626.95 1952.85,627.14 1955.73,627.32 1958.61,627.50 1961.49,627.69 1964.37,627.87 1967.25,628.05 1970.12,628.23 1973.00,628.40 1975.88,628.58 1978.76,628.76 1981.64,628.93 1984.52,629.11 1987.40,629.28 1987.40,660.94 1984.52,660.62 1981.64,660.30 1978.76,659.98 1975.88,659.66 1973.00,659.34 1970.12,659.02 1967.25,658.71 1964.37,658.39 1961.49,658.08 1958.61,657.76 1955.73,657.45 1952.85,657.13 1949.97,656.82 1947.09,656.51 1944.21,656.19 1941.33,655.88 1938.45,655.57 1935.57,655.26 1932.69,654.95 1929.81,654.64 1926.94,654.33 1924.06,654.02 1921.18,653.71 1918.30,653.41 1915.42,653.10 1912.54,652.79 1909.66,652.49 1906.78,652.18 1903.90,651.88 1901.02,651.57 1898.14,651.27 1895.26,650.97 1892.38,650.66 1889.51,650.36 1886.63,650.06 1883.75,649.76 1880.87,649.46 1877.99,649.16 1875.11,648.86 1872.23,648.56 1869.35,648.26 1866.47,647.96 1863.59,647.66 1860.71,647.37 1857.83,647.07 1854.95,646.77 1852.07,646.48 1849.20,646.18 1846.32,645.89 1843.44,645.59 1840.56,645.30 1837.68,645.01 1834.80,644.71 1831.92,644.42 1829.04,644.13 1826.16,643.84 1823.28,643.55 1820.40,643.26 1817.52,642.97 1814.64,642.68 1811.76,642.39 1808.89,642.10 1806.01,641.82 1803.13,641.53 1800.25,641.24 1797.37,640.95 1794.49,640.67 1791.61,640.38 1788.73,640.10 1785.85,639.81 1782.97,639.53 1780.09,639.25 1777.21,638.96 1774.33,638.68 1771.46,638.40 1768.58,638.12 1765.70,637.84 1762.82,637.55 1759.94,637.27 1757.06,636.99 1754.18,636.72 1751.30,636.44 1748.42,636.16 1745.54,635.88 1742.66,635.60 1739.78,635.32 1736.90,635.05 1734.02,634.77 1731.15,634.50 1728.27,634.22 1725.39,633.95 1722.51,633.67 1719.63,633.40 1716.75,633.12 1713.87,632.85 1710.99,632.58 1708.11,632.31 1705.23,632.03 1702.35,631.76 1699.47,631.49 1696.59,631.22 1693.72,630.95 1690.84,630.68 1687.96,630.41 1685.08,630.14 1682.20,629.87 1679.32,629.61 1676.44,629.34 1673.56,629.07 1670.68,628.80 1667.80,628.54 1664.92,628.27 1662.04,628.01 1659.16,627.74 1656.28,627.48 1653.41,627.21 1650.53,626.95 1647.65,626.68 1644.77,626.42 1641.89,626.16 1639.01,625.90 1636.13,625.63 1633.25,625.37 1630.37,625.11 1627.49,624.85 1624.61,624.59 1621.73,624.33 1618.85,624.07 1615.97,623.81 1613.10,623.55 1610.22,623.29 1607.34,623.04 1604.46,622.78 1601.58,622.52 1598.70,622.27 1595.82,622.01 1592.94,621.75 1590.06,621.50 1587.18,621.24 1584.30,620.99 1581.42,620.73 1578.54,620.48 1575.67,620.22 1572.79,619.97 1569.91,619.72 1567.03,619.46 1564.15,619.21 1561.27,618.96 1558.39,618.71 1555.51,618.46 1552.63,618.21 1549.75,617.96 1546.87,617.71 1543.99,617.46 1541.11,617.21 1538.23,616.96 1535.36,616.71 1532.48,616.46 1529.60,616.21 1526.72,615.96 1523.84,615.72 1520.96,615.47 1518.08,615.22 1515.20,614.98 1512.32,614.73 1509.44,614.49 1506.56,614.24 1503.68,613.99 1500.80,613.75 1497.93,613.51 1495.05,613.26 1492.17,613.02 1489.29,612.77 1486.41,612.53 1483.53,612.29 1480.65,612.05 1477.77,611.80 1474.89,611.56 1472.01,611.32 1469.13,611.08 1466.25,610.84 1463.37,610.60 1460.49,610.36 1457.62,610.12 1454.74,609.88 1451.86,609.64 1448.98,609.40 1446.10,609.16 1443.22,608.93 1440.34,608.69 1437.46,608.45 1434.58,608.21 1431.70,607.98 1428.82,607.74 1425.94,607.50 1423.06,607.27 1420.18,607.03 1417.31,606.80 1414.43,606.56 1411.55,606.33 1408.67,606.09 1405.79,605.86 1402.91,605.62 1400.03,605.39 1397.15,605.16 1394.27,604.92 1391.39,604.69 1388.51,604.46 1385.63,604.22 1382.75,603.99 1379.88,603.76 1377.00,603.53 1374.12,603.30 1371.24,603.07 1368.36,602.84 1365.48,602.61 1362.60,602.38 1359.72,602.15 1356.84,601.92 1353.96,601.69 1351.08,601.46 1348.20,601.23 1345.32,601.00 1342.44,600.77 1339.57,600.55 1336.69,600.32 1333.81,600.09 1330.93,599.86 1328.05,599.64 1325.17,599.41 1322.29,599.18 1319.41,598.96 1316.53,598.73 1313.65,598.51 1310.77,598.28 1307.89,598.05 1305.01,597.83 1302.14,597.61 1299.26,597.38 1296.38,597.16 1293.50,596.93 1290.62,596.71 1287.74,596.49 1284.86,596.26 1281.98,596.04 1279.10,595.82 1276.22,595.59 1273.34,595.37 1270.46,595.15 1267.58,594.93 1264.70,594.71 1261.83,594.48 1258.95,594.26 1256.07,594.04 1253.19,593.82 1250.31,593.60 1247.43,593.38 1244.55,593.16 1241.67,592.94 1238.79,592.72 1235.91,592.50 1233.03,592.28 1230.15,592.06 1227.27,591.84 1224.39,591.63 1221.52,591.41 1218.64,591.19 1215.76,590.97 1212.88,590.75 1210.00,590.54 1207.12,590.32 1204.24,590.10 1201.36,589.88 1198.48,589.67 1195.60,589.45 1192.72,589.23 1189.84,589.02 1186.96,588.80 1184.09,588.59 1181.21,588.37 1178.33,588.16 1175.45,587.94 1172.57,587.72 1169.69,587.51 1166.81,587.29 1163.93,587.08 1161.05,586.87 1158.17,586.65 1155.29,586.44 1152.41,586.22 1149.53,586.01 1146.65,585.80 1143.78,585.58 1140.90,585.37 1138.02,585.16 1135.14,584.94 1132.26,584.73 1129.38,584.52 1126.50,584.31" fill="#00BFC4" fill-opacity="0.2" stroke="none"/>
<polyline points="1126.50,-2.24 1129.17,-0.58 1131.84,1.08 1134.51,2.75 1137.18,4.41 1139.85,6.08 1142.52,7.75 1145.18,9.42 1147.85,11.10 1150.52,12.78 1153.19,14.45 1155.86,16.13 1158.53,17.82 1161.20,19.50 1163.87,21.19 1166.54,22.87 1169.21,24.56 1171.88,26.25 1174.55,27.94 1177.22,29.64 1179.88,31.33 1182.55,33.03 1185.22,34.73 1187.89,36.42 1190.56,38.13 1193.23,39.83 1195.90,41.53 1198.57,43.23 1201.24,44.94 1203.91,46.65 1206.58,48.35 1209.25,50.06 1211.92,51.77 1214.58,53.48 1217.25,55.20 1219.92,56.91 1222.59,58.62 1225.26,60.34 1227.93,62.06 1230.60,63.77 1233.27,65.49 1235.94,67.21 1238.61,68.93 1241.28,70.65 1243.95,72.37 1246.62,74.09 1249.28,75.81 1251.95,77.53 1254.62,79.25 1257.29,80.98 1259.96,82.70 1262.63,84.43 1265.30,86.15 1267.97,87.87 1270.64,89.60 1273.31,91.33 1275.98,93.05 1278.65,94.78 1281.32,96.50 1283.98,98.23 1286.65,99.96 1289.32,101.68 1291.99,103.41 1294.66,105.14 1297.33,106.86 1300.00,108.59 1302.67,110.31 1305.34,112.04 1308.01,113.77 1310.68,115.49 1313.35,117.22 1316.02,118.94 1318.68,120.67 1321.35,122.39 1324.02,124.12 1326.69,125.84 1329.36,127.57 1332.03,129.29 1334.70,131.01 1337.37,132.73 1340.04,134.45 1342.71,136.17 1345.38,137.89 1348.05,139.61 1350.72,141.33 1353.38,143.05 1356.05,144.77 1358.72,146.48 1361.39,148.20 1364.06,149.91 1366.73,151.63 1369.40,153.34 1372.07,155.05 1374.74,156.76 1377.41,158.47 1380.08,160.18 1382.75,161.89 1385.42,163.60 1388.08,165.30 1390.75,167.00 1393.42,168.71 1396.09,170.41 1398.76,172.11 1401.43,173.81 1404.10,175.50 1406.77,177.20 1409.44,178.89 1412.11,180.59 1414.78,182.28 1417.45,183.97 1420.12,185.66 1422.78,187.35 1425.45,189.03 1428.12,190.72 1430.79,192.40 1433.46,194.09 1436.13,195.77 1438.80,197.45 1441.47,199.13 1444.14,200.81 1446.81,202.49 1449.48,204.16 1452.15,205.84 1454.82,207.51 1457.48,209.19 1460.15,210.86 1462.82,212.53 1465.49,214.20 1468.16,215.87 1470.83,217.54 1473.50,219.20 1476.17,220.87 1478.84,222.54 1481.51,224.20 1484.18,225.87 1486.85,227.53 1489.52,229.19 1492.18,230.85 1494.85,232.51 1497.52,234.17 1500.19,235.83 1502.86,237.49 1505.53,239.15 1508.20,240.80 1510.87,242.46 1513.54,244.12 1516.21,245.77 1518.88,247.43 1521.55,249.08 1524.22,250.73 1526.88,252.39 1529.55,254.04 1532.22,255.69 1534.89,257.34 1537.56,258.99 1540.23,260.64 1542.90,262.29 1545.57,263.94 1548.24,265.59 1550.91,267.24 1553.58,268.88 1556.25,270.53 1558.92,272.18 1561.58,273.82 1564.25,275.47 1566.92,277.12 1569.59,278.76 1572.26,280.41 1574.93,282.05 1577.60,283.70 1580.27,285.34 1582.94,286.99 1585.61,288.63 1588.28,290.28 1590.95,291.92 1593.62,293.56 1596.28,295.21 1598.95,296.85 1601.62,298.49 1604.29,300.14 1606.96,301.78 1609.63,303.42 1612.30,305.07 1614.97,306.71 1617.64,308.35 1620.31,310.00 1622.98,311.64 1625.65,313.28 1628.32,314.93 1630.98,316.57 1633.65,318.21 1636.32,319.86 1638.99,321.50 1641.66,323.15 1644.33,324.79 1647.00,326.44 1649.67,328.08 1652.34,329.73 1655.01,331.37 1657.68,333.02 1660.35,334.66 1663.02,336.31 1665.68,337.95 1668.35,339.60 1671.02,341.25 1673.69,342.90 1676.36,344.54 1679.03,346.19 1681.70,347.84 1684.37,349.49 1687.04,351.14 1689.71,352.79 1692.38,354.44 1695.05,356.09 1697.72,357.74 1700.38,359.40 1703.05,361.05 1705.72,362.70 1708.39,364.36 1711.06,366.01 1713.73,367.67 1716.40,369.32 1719.07,370.98 1721.74,372.64 1724.41,374.29 1727.08,375.95 1729.75,377.61 1732.42,379.27 1735.08,380.93 1737.75,382.59 1740.42,384.26 1743.09,385.92 1745.76,387.58 1748.43,389.25 1751.10,390.92 1753.77,392.58 1756.44,394.25 1759.11,395.92 1761.78,397.59 1764.45,399.26 1767.12,400.93 1769.78,402.60 1772.45,404.27 1775.12,405.95 1777.79,407.62 1780.46,409.30 1783.13,410.98 1785.80,412.66 1788.47,414.34 1791.14,416.02 1793.81,417.70 1796.48,419.38 1799.15,421.07 1801.82,422.75 1804.48,424.44 1807.15,426.13 1809.82,427.82 1812.49,429.51 1815.16,431.20 1817.83,432.89 1820.50,434.58 1823.17,436.28 1825.84,437.98 1828.51,439.67 1831.18,441.37 1833.85,443.08 1836.52,444.78 1839.18,446.48 1841.85,448.18 1844.52,449.89 1847.19,451.60 1849.86,453.30 1852.53,455.01 1855.20,456.72 1857.87,458.43 1860.54,460.13 1863.21,461.84 1865.88,463.55 1868.55,465.26 1871.22,466.96 1873.88,468.67 1876.55,470.38 1879.22,472.08 1881.89,473.78 1884.56,475.49 1887.23,477.19 1889.90,478.89 1892.57,480.59 1895.24,482.28 1897.91,483.98 1900.58,485.67 1903.25,487.36 1905.92,489.05 1908.58,490.73 1911.25,492.42 1913.92,494.10 1916.59,495.78 1919.26,497.45 1921.93,499.12 1924.60,500.79 1937.50,511.70 1950.00,520.50 1969.50,532.20 1987.40,539.30" fill="none" stroke="#E9625B" stroke-width="1.80" stroke-linejoin="round"/>
<polyline points="1126.50,429.67 1129.38,430.12 1132.26,430.57 1135.14,431.02 1138.02,431.47 1140.90,431.93 1143.78,432.38 1146.65,432.84 1149.53,433.29 1152.41,433.75 1155.29,434.20 1158.17,434.66 1161.05,435.12 1163.93,435.57 1166.81,436.03 1169.69,436.49 1172.57,436.95 1175.45,437.41 1178.33,437.87 1181.21,438.33 1184.09,438.80 1186.96,439.26 1189.84,439.72 1192.72,440.19 1195.60,440.65 1198.48,441.12 1201.36,441.58 1204.24,442.05 1207.12,442.51 1210.00,442.98 1212.88,443.45 1215.76,443.92 1218.64,444.39 1221.52,444.86 1224.39,445.33 1227.27,445.80 1230.15,446.27 1233.03,446.74 1235.91,447.21 1238.79,447.69 1241.67,448.16 1244.55,448.64 1247.43,449.11 1250.31,449.59 1253.19,450.06 1256.07,450.54 1258.95,451.02 1261.83,451.49 1264.70,451.97 1267.58,452.45 1270.46,452.93 1273.34,453.41 1276.22,453.89 1279.10,454.37 1281.98,454.85 1284.86,455.34 1287.74,455.82 1290.62,456.30 1293.50,456.79 1296.38,457.27 1299.26,457.75 1302.14,458.24 1305.01,458.73 1307.89,459.21 1310.77,459.70 1313.65,460.19 1316.53,460.68 1319.41,461.17 1322.29,461.66 1325.17,462.15 1328.05,462.64 1330.93,463.13 1333.81,463.62 1336.69,464.11 1339.57,464.60 1342.44,465.10 1345.32,465.59 1348.20,466.09 1351.08,466.58 1353.96,467.08 1356.84,467.57 1359.72,468.07 1362.60,468.57 1365.48,469.07 1368.36,469.56 1371.24,470.06 1374.12,470.56 1377.00,471.06 1379.88,471.56 1382.75,472.06 1385.63,472.57 1388.51,473.07 1391.39,473.57 1394.27,474.07 1397.15,474.58 1400.03,475.08 1402.91,475.59 1405.79,476.09 1408.67,476.60 1411.55,477.11 1414.43,477.61 1417.31,478.12 1420.18,478.63 1423.06,479.14 1425.94,479.65 1428.82,480.16 1431.70,480.67 1434.58,481.18 1437.46,481.69 1440.34,482.20 1443.22,482.71 1446.10,483.23 1448.98,483.74 1451.86,484.25 1454.74,484.77 1457.62,485.28 1460.49,485.80 1463.37,486.32 1466.25,486.83 1469.13,487.35 1472.01,487.87 1474.89,488.39 1477.77,488.91 1480.65,489.42 1483.53,489.94 1486.41,490.47 1489.29,490.99 1492.17,491.51 1495.05,492.03 1497.93,492.55 1500.80,493.08 1503.68,493.60 1506.56,494.12 1509.44,494.65 1512.32,495.17 1515.20,495.70 1518.08,496.22 1520.96,496.75 1523.84,497.28 1526.72,497.81 1529.60,498.33 1532.48,498.86 1535.36,499.39 1538.23,499.92 1541.11,500.45 1543.99,500.98 1546.87,501.52 1549.75,502.05 1552.63,502.58 1555.51,503.11 1558.39,503.65 1561.27,504.18 1564.15,504.71 1567.03,505.25 1569.91,505.78 1572.79,506.32 1575.67,506.86 1578.54,507.39 1581.42,507.93 1584.30,508.47 1587.18,509.01 1590.06,509.55 1592.94,510.09 1595.82,510.63 1598.70,511.17 1601.58,511.71 1604.46,512.25 1607.34,512.79 1610.22,513.33 1613.10,513.88 1615.97,514.42 1618.85,514.96 1621.73,515.51 1624.61,516.05 1627.49,516.60 1630.37,517.15 1633.25,517.69 1636.13,518.24 1639.01,518.79 1641.89,519.34 1644.77,519.88 1647.65,520.43 1650.53,520.98 1653.41,521.53 1656.28,522.08 1659.16,522.63 1662.04,523.18 1664.92,523.74 1667.80,524.29 1670.68,524.84 1673.56,525.40 1676.44,525.95 1679.32,526.50 1682.20,527.06 1685.08,527.61 1687.96,528.17 1690.84,528.73 1693.72,529.28 1696.59,529.84 1699.47,530.40 1702.35,530.96 1705.23,531.52 1708.11,532.07 1710.99,532.63 1713.87,533.19 1716.75,533.76 1719.63,534.32 1722.51,534.88 1725.39,535.44 1728.27,536.00 1731.15,536.57 1734.02,537.13 1736.90,537.69 1739.78,538.26 1742.66,538.82 1745.54,539.39 1748.42,539.95 1751.30,540.52 1754.18,541.09 1757.06,541.66 1759.94,542.22 1762.82,542.79 1765.70,543.36 1768.58,543.93 1771.46,544.50 1774.33,545.07 1777.21,545.64 1780.09,546.21 1782.97,546.78 1785.85,547.36 1788.73,547.93 1791.61,548.50 1794.49,549.07 1797.37,549.65 1800.25,550.22 1803.13,550.80 1806.01,551.37 1808.89,551.95 1811.76,552.53 1814.64,553.10 1817.52,553.68 1820.40,554.26 1823.28,554.83 1826.16,555.41 1829.04,555.99 1831.92,556.57 1834.80,557.15 1837.68,557.73 1840.56,558.31 1843.44,558.89 1846.32,559.48 1849.20,560.06 1852.07,560.64 1854.95,561.22 1857.83,561.81 1860.71,562.39 1863.59,562.98 1866.47,563.56 1869.35,564.15 1872.23,564.73 1875.11,565.32 1877.99,565.91 1880.87,566.49 1883.75,567.08 1886.63,567.67 1889.51,568.26 1892.38,568.85 1895.26,569.43 1898.14,570.02 1901.02,570.62 1903.90,571.21 1906.78,571.80 1909.66,572.39 1912.54,572.98 1915.42,573.57 1918.30,574.17 1921.18,574.76 1924.06,575.35 1926.94,575.95 1929.81,576.54 1932.69,577.14 1935.57,577.73 1938.45,578.33 1941.33,578.93 1944.21,579.52 1947.09,580.12 1949.97,580.72 1952.85,581.32 1955.73,581.91 1958.61,582.51 1961.49,583.11 1964.37,583.71 1967.25,584.31 1970.12,584.91 1973.00,585.52 1975.88,586.12 1978.76,586.72 1981.64,587.32 1984.52,587.92 1987.40,588.53" fill="none" stroke="#E9625B" stroke-width="1.80" stroke-linejoin="round"/>
<polyline points="1126.50,381.76 1129.38,382.39 1132.26,383.02 1135.14,383.64 1138.02,384.27 1140.90,384.90 1143.78,385.52 1146.65,386.15 1149.53,386.77 1152.41,387.40 1155.29,388.02 1158.17,388.64 1161.05,389.26 1163.93,389.88 1166.81,390.51 1169.69,391.13 1172.57,391.75 1175.45,392.36 1178.33,392.98 1181.21,393.60 1184.09,394.22 1186.96,394.83 1189.84,395.45 1192.72,396.07 1195.60,396.68 1198.48,397.29 1201.36,397.91 1204.24,398.52 1207.12,399.13 1210.00,399.75 1212.88,400.36 1215.76,400.97 1218.64,401.58 1221.52,402.19 1224.39,402.80 1227.27,403.41 1230.15,404.02 1233.03,404.62 1235.91,405.23 1238.79,405.84 1241.67,406.44 1244.55,407.05 1247.43,407.65 1250.31,408.26 1253.19,408.86 1256.07,409.46 1258.95,410.07 1261.83,410.67 1264.70,411.27 1267.58,411.87 1270.46,412.47 1273.34,413.07 1276.22,413.67 1279.10,414.27 1281.98,414.87 1284.86,415.47 1287.74,416.07 1290.62,416.66 1293.50,417.26 1296.38,417.86 1299.26,418.45 1302.14,419.05 1305.01,419.64 1307.89,420.23 1310.77,420.83 1313.65,421.42 1316.53,422.01 1319.41,422.60 1322.29,423.20 1325.17,423.79 1328.05,424.38 1330.93,424.97 1333.81,425.56 1336.69,426.15 1339.57,426.74 1342.44,427.32 1345.32,427.91 1348.20,428.50 1351.08,429.08 1353.96,429.67 1356.84,430.26 1359.72,430.84 1362.60,431.43 1365.48,432.01 1368.36,432.60 1371.24,433.18 1374.12,433.76 1377.00,434.34 1379.88,434.93 1382.75,435.51 1385.63,436.09 1388.51,436.67 1391.39,437.25 1394.27,437.83 1397.15,438.41 1400.03,438.99 1402.91,439.57 1405.79,440.14 1408.67,440.72 1411.55,441.30 1414.43,441.88 1417.31,442.45 1420.18,443.03 1423.06,443.60 1425.94,444.18 1428.82,444.75 1431.70,445.33 1434.58,445.90 1437.46,446.47 1440.34,447.05 1443.22,447.62 1446.10,448.19 1448.98,448.76 1451.86,449.33 1454.74,449.91 1457.62,450.48 1460.49,451.05 1463.37,451.62 1466.25,452.18 1469.13,452.75 1472.01,453.32 1474.89,453.89 1477.77,454.46 1480.65,455.02 1483.53,455.59 1486.41,456.16 1489.29,456.72 1492.17,457.29 1495.05,457.86 1497.93,458.42 1500.80,458.98 1503.68,459.55 1506.56,460.11 1509.44,460.68 1512.32,461.24 1515.20,461.80 1518.08,462.36 1520.96,462.93 1523.84,463.49 1526.72,464.05 1529.60,464.61 1532.48,465.17 1535.36,465.73 1538.23,466.29 1541.11,466.85 1543.99,467.41 1546.87,467.97 1549.75,468.53 1552.63,469.08 1555.51,469.64 1558.39,470.20 1561.27,470.76 1564.15,471.31 1567.03,471.87 1569.91,472.43 1572.79,472.98 1575.67,473.54 1578.54,474.09 1581.42,474.65 1584.30,475.20 1587.18,475.75 1590.06,476.31 1592.94,476.86 1595.82,477.42 1598.70,477.97 1601.58,478.52 1604.46,479.07 1607.34,479.62 1610.22,480.18 1613.10,480.73 1615.97,481.28 1618.85,481.83 1621.73,482.38 1624.61,482.93 1627.49,483.48 1630.37,484.03 1633.25,484.58 1636.13,485.13 1639.01,485.67 1641.89,486.22 1644.77,486.77 1647.65,487.32 1650.53,487.87 1653.41,488.41 1656.28,488.96 1659.16,489.51 1662.04,490.05 1664.92,490.60 1667.80,491.14 1670.68,491.69 1673.56,492.24 1676.44,492.78 1679.32,493.33 1682.20,493.87 1685.08,494.41 1687.96,494.96 1690.84,495.50 1693.72,496.04 1696.59,496.59 1699.47,497.13 1702.35,497.67 1705.23,498.22 1708.11,498.76 1710.99,499.30 1713.87,499.84 1716.75,500.38 1719.63,500.92 1722.51,501.47 1725.39,502.01 1728.27,502.55 1731.15,503.09 1734.02,503.63 1736.90,504.17 1739.78,504.71 1742.66,505.25 1745.54,505.78 1748.42,506.32 1751.30,506.86 1754.18,507.40 1757.06,507.94 1759.94,508.48 1762.82,509.01 1765.70,509.55 1768.58,510.09 1771.46,510.63 1774.33,511.16 1777.21,511.70 1780.09,512.24 1782.97,512.78 1785.85,513.31 1788.73,513.85 1791.61,514.39 1794.49,514.93 1797.37,515.48 1800.25,516.02 1803.13,516.57 1806.01,517.12 1808.89,517.67 1811.76,518.23 1814.64,518.78 1817.52,519.34 1820.40,519.91 1823.28,520.48 1826.16,521.05 1829.04,521.63 1831.92,522.21 1834.80,522.79 1837.68,523.38 1840.56,523.98 1843.44,524.58 1846.32,525.19 1849.20,525.80 1852.07,526.42 1854.95,527.04 1857.83,527.67 1860.71,528.31 1863.59,528.96 1866.47,529.61 1869.35,530.27 1872.23,530.94 1875.11,531.61 1877.99,532.30 1880.87,532.99 1883.75,533.69 1886.63,534.40 1889.51,535.12 1892.38,535.85 1895.26,536.58 1898.14,537.33 1901.02,538.09 1903.90,538.86 1906.78,539.63 1909.66,540.42 1912.54,541.21 1915.42,542.02 1918.30,542.83 1921.18,543.65 1924.06,544.48 1926.94,545.31 1929.81,546.15 1932.69,547.00 1935.57,547.86 1938.45,548.72 1941.33,549.59 1944.21,550.46 1947.09,551.34 1949.97,552.23 1952.85,553.12 1955.73,554.02 1958.61,554.92 1961.49,555.82 1964.37,556.73 1967.25,557.64 1970.12,558.56 1973.00,559.48 1975.88,560.40 1978.76,561.32 1981.64,562.25 1984.52,563.18 1987.40,564.11" fill="none" stroke="#E9625B" stroke-width="1.80" stroke-linejoin="round"/>
<polyline points="1126.50,548.30 1129.38,548.63 1132.26,548.96 1135.14,549.29 1138.02,549.61 1140.90,549.94 1143.78,550.27 1146.65,550.59 1149.53,550.92 1152.41,551.25 1155.29,551.57 1158.17,551.90 1161.05,552.23 1163.93,552.55 1166.81,552.88 1169.69,553.20 1172.57,553.53 1175.45,553.85 1178.33,554.18 1181.21,554.50 1184.09,554.83 1186.96,555.15 1189.84,555.48 1192.72,555.80 1195.60,556.13 1198.48,556.45 1201.36,556.78 1204.24,557.10 1207.12,557.42 1210.00,557.75 1212.88,558.07 1215.76,558.39 1218.64,558.72 1221.52,559.04 1224.39,559.36 1227.27,559.68 1230.15,560.01 1233.03,560.33 1235.91,560.65 1238.79,560.97 1241.67,561.29 1244.55,561.61 1247.43,561.93 1250.31,562.25 1253.19,562.58 1256.07,562.90 1258.95,563.22 1261.83,563.53 1264.70,563.85 1267.58,564.17 1270.46,564.49 1273.34,564.81 1276.22,565.13 1279.10,565.45 1281.98,565.77 1284.86,566.08 1287.74,566.40 1290.62,566.72 1293.50,567.04 1296.38,567.35 1299.26,567.67 1302.14,567.98 1305.01,568.30 1307.89,568.62 1310.77,568.93 1313.65,569.25 1316.53,569.56 1319.41,569.88 1322.29,570.19 1325.17,570.50 1328.05,570.82 1330.93,571.13 1333.81,571.44 1336.69,571.76 1339.57,572.07 1342.44,572.38 1345.32,572.69 1348.20,573.00 1351.08,573.32 1353.96,573.63 1356.84,573.94 1359.72,574.25 1362.60,574.56 1365.48,574.87 1368.36,575.18 1371.24,575.49 1374.12,575.79 1377.00,576.10 1379.88,576.41 1382.75,576.72 1385.63,577.02 1388.51,577.33 1391.39,577.64 1394.27,577.94 1397.15,578.25 1400.03,578.55 1402.91,578.86 1405.79,579.16 1408.67,579.47 1411.55,579.77 1414.43,580.08 1417.31,580.38 1420.18,580.68 1423.06,580.98 1425.94,581.29 1428.82,581.59 1431.70,581.89 1434.58,582.19 1437.46,582.49 1440.34,582.79 1443.22,583.09 1446.10,583.39 1448.98,583.69 1451.86,583.99 1454.74,584.28 1457.62,584.58 1460.49,584.88 1463.37,585.17 1466.25,585.47 1469.13,585.77 1472.01,586.06 1474.89,586.36 1477.77,586.65 1480.65,586.95 1483.53,587.24 1486.41,587.53 1489.29,587.83 1492.17,588.12 1495.05,588.41 1497.93,588.70 1500.80,588.99 1503.68,589.28 1506.56,589.57 1509.44,589.86 1512.32,590.15 1515.20,590.44 1518.08,590.73 1520.96,591.01 1523.84,591.30 1526.72,591.59 1529.60,591.87 1532.48,592.16 1535.36,592.44 1538.23,592.73 1541.11,593.01 1543.99,593.30 1546.87,593.58 1549.75,593.86 1552.63,594.15 1555.51,594.43 1558.39,594.71 1561.27,594.99 1564.15,595.27 1567.03,595.55 1569.91,595.83 1572.79,596.11 1575.67,596.38 1578.54,596.66 1581.42,596.94 1584.30,597.21 1587.18,597.49 1590.06,597.77 1592.94,598.04 1595.82,598.31 1598.70,598.59 1601.58,598.86 1604.46,599.13 1607.34,599.41 1610.22,599.68 1613.10,599.95 1615.97,600.22 1618.85,600.49 1621.73,600.76 1624.61,601.02 1627.49,601.29 1630.37,601.56 1633.25,601.83 1636.13,602.09 1639.01,602.36 1641.89,602.62 1644.77,602.89 1647.65,603.15 1650.53,603.41 1653.41,603.68 1656.28,603.94 1659.16,604.20 1662.04,604.46 1664.92,604.72 1667.80,604.98 1670.68,605.24 1673.56,605.50 1676.44,605.76 1679.32,606.01 1682.20,606.27 1685.08,606.52 1687.96,606.78 1690.84,607.03 1693.72,607.29 1696.59,607.54 1699.47,607.79 1702.35,608.04 1705.23,608.30 1708.11,608.55 1710.99,608.80 1713.87,609.05 1716.75,609.29 1719.63,609.54 1722.51,609.79 1725.39,610.04 1728.27,610.28 1731.15,610.53 1734.02,610.77 1736.90,611.01 1739.78,611.26 1742.66,611.50 1745.54,611.74 1748.42,611.98 1751.30,612.22 1754.18,612.46 1757.06,612.70 1759.94,612.94 1762.82,613.18 1765.70,613.41 1768.58,613.65 1771.46,613.88 1774.33,614.12 1777.21,614.35 1780.09,614.59 1782.97,614.82 1785.85,615.05 1788.73,615.28 1791.61,615.51 1794.49,615.74 1797.37,615.97 1800.25,616.20 1803.13,616.42 1806.01,616.65 1808.89,616.88 1811.76,617.10 1814.64,617.33 1817.52,617.55 1820.40,617.77 1823.28,617.99 1826.16,618.22 1829.04,618.44 1831.92,618.66 1834.80,618.87 1837.68,619.09 1840.56,619.31 1843.44,619.53 1846.32,619.74 1849.20,619.96 1852.07,620.17 1854.95,620.38 1857.83,620.60 1860.71,620.81 1863.59,621.02 1866.47,621.23 1869.35,621.44 1872.23,621.65 1875.11,621.85 1877.99,622.06 1880.87,622.27 1883.75,622.47 1886.63,622.68 1889.51,622.88 1892.38,623.08 1895.26,623.28 1898.14,623.48 1901.02,623.68 1903.90,623.88 1906.78,624.08 1909.66,624.28 1912.54,624.48 1915.42,624.67 1918.30,624.87 1921.18,625.06 1924.06,625.25 1926.94,625.45 1929.81,625.64 1932.69,625.83 1935.57,626.02 1938.45,626.21 1941.33,626.39 1944.21,626.58 1947.09,626.77 1949.97,626.95 1952.85,627.14 1955.73,627.32 1958.61,627.50 1961.49,627.69 1964.37,627.87 1967.25,628.05 1970.12,628.23 1973.00,628.40 1975.88,628.58 1978.76,628.76 1981.64,628.93 1984.52,629.11 1987.40,629.28" fill="none" stroke="#08B4BA" stroke-width="1.80" stroke-linejoin="round"/>
<polyline points="1126.50,584.31 1129.38,584.52 1132.26,584.73 1135.14,584.94 1138.02,585.16 1140.90,585.37 1143.78,585.58 1146.65,585.80 1149.53,586.01 1152.41,586.22 1155.29,586.44 1158.17,586.65 1161.05,586.87 1163.93,587.08 1166.81,587.29 1169.69,587.51 1172.57,587.72 1175.45,587.94 1178.33,588.16 1181.21,588.37 1184.09,588.59 1186.96,588.80 1189.84,589.02 1192.72,589.23 1195.60,589.45 1198.48,589.67 1201.36,589.88 1204.24,590.10 1207.12,590.32 1210.00,590.54 1212.88,590.75 1215.76,590.97 1218.64,591.19 1221.52,591.41 1224.39,591.63 1227.27,591.84 1230.15,592.06 1233.03,592.28 1235.91,592.50 1238.79,592.72 1241.67,592.94 1244.55,593.16 1247.43,593.38 1250.31,593.60 1253.19,593.82 1256.07,594.04 1258.95,594.26 1261.83,594.48 1264.70,594.71 1267.58,594.93 1270.46,595.15 1273.34,595.37 1276.22,595.59 1279.10,595.82 1281.98,596.04 1284.86,596.26 1287.74,596.49 1290.62,596.71 1293.50,596.93 1296.38,597.16 1299.26,597.38 1302.14,597.61 1305.01,597.83 1307.89,598.05 1310.77,598.28 1313.65,598.51 1316.53,598.73 1319.41,598.96 1322.29,599.18 1325.17,599.41 1328.05,599.64 1330.93,599.86 1333.81,600.09 1336.69,600.32 1339.57,600.55 1342.44,600.77 1345.32,601.00 1348.20,601.23 1351.08,601.46 1353.96,601.69 1356.84,601.92 1359.72,602.15 1362.60,602.38 1365.48,602.61 1368.36,602.84 1371.24,603.07 1374.12,603.30 1377.00,603.53 1379.88,603.76 1382.75,603.99 1385.63,604.22 1388.51,604.46 1391.39,604.69 1394.27,604.92 1397.15,605.16 1400.03,605.39 1402.91,605.62 1405.79,605.86 1408.67,606.09 1411.55,606.33 1414.43,606.56 1417.31,606.80 1420.18,607.03 1423.06,607.27 1425.94,607.50 1428.82,607.74 1431.70,607.98 1434.58,608.21 1437.46,608.45 1440.34,608.69 1443.22,608.93 1446.10,609.16 1448.98,609.40 1451.86,609.64 1454.74,609.88 1457.62,610.12 1460.49,610.36 1463.37,610.60 1466.25,610.84 1469.13,611.08 1472.01,611.32 1474.89,611.56 1477.77,611.80 1480.65,612.05 1483.53,612.29 1486.41,612.53 1489.29,612.77 1492.17,613.02 1495.05,613.26 1497.93,613.51 1500.80,613.75 1503.68,613.99 1506.56,614.24 1509.44,614.49 1512.32,614.73 1515.20,614.98 1518.08,615.22 1520.96,615.47 1523.84,615.72 1526.72,615.96 1529.60,616.21 1532.48,616.46 1535.36,616.71 1538.23,616.96 1541.11,617.21 1543.99,617.46 1546.87,617.71 1549.75,617.96 1552.63,618.21 1555.51,618.46 1558.39,618.71 1561.27,618.96 1564.15,619.21 1567.03,619.46 1569.91,619.72 1572.79,619.97 1575.67,620.22 1578.54,620.48 1581.42,620.73 1584.30,620.99 1587.18,621.24 1590.06,621.50 1592.94,621.75 1595.82,622.01 1598.70,622.27 1601.58,622.52 1604.46,622.78 1607.34,623.04 1610.22,623.29 1613.10,623.55 1615.97,623.81 1618.85,624.07 1621.73,624.33 1624.61,624.59 1627.49,624.85 1630.37,625.11 1633.25,625.37 1636.13,625.63 1639.01,625.90 1641.89,626.16 1644.77,626.42 1647.65,626.68 1650.53,626.95 1653.41,627.21 1656.28,627.48 1659.16,627.74 1662.04,628.01 1664.92,628.27 1667.80,628.54 1670.68,628.80 1673.56,629.07 1676.44,629.34 1679.32,629.61 1682.20,629.87 1685.08,630.14 1687.96,630.41 1690.84,630.68 1693.72,630.95 1696.59,631.22 1699.47,631.49 1702.35,631.76 1705.23,632.03 1708.11,632.31 1710.99,632.58 1713.87,632.85 1716.75,633.12 1719.63,633.40 1722.51,633.67 1725.39,633.95 1728.27,634.22 1731.15,634.50 1734.02,634.77 1736.90,635.05 1739.78,635.32 1742.66,635.60 1745.54,635.88 1748.42,636.16 1751.30,636.44 1754.18,636.72 1757.06,636.99 1759.94,637.27 1762.82,637.55 1765.70,637.84 1768.58,638.12 1771.46,638.40 1774.33,638.68 1777.21,638.96 1780.09,639.25 1782.97,639.53 1785.85,639.81 1788.73,640.10 1791.61,640.38 1794.49,640.67 1797.37,640.95 1800.25,641.24 1803.13,641.53 1806.01,641.82 1808.89,642.10 1811.76,642.39 1814.64,642.68 1817.52,642.97 1820.40,643.26 1823.28,643.55 1826.16,643.84 1829.04,644.13 1831.92,644.42 1834.80,644.71 1837.68,645.01 1840.56,645.30 1843.44,645.59 1846.32,645.89 1849.20,646.18 1852.07,646.48 1854.95,646.77 1857.83,647.07 1860.71,647.37 1863.59,647.66 1866.47,647.96 1869.35,648.26 1872.23,648.56 1875.11,648.86 1877.99,649.16 1880.87,649.46 1883.75,649.76 1886.63,650.06 1889.51,650.36 1892.38,650.66 1895.26,650.97 1898.14,651.27 1901.02,651.57 1903.90,651.88 1906.78,652.18 1909.66,652.49 1912.54,652.79 1915.42,653.10 1918.30,653.41 1921.18,653.71 1924.06,654.02 1926.94,654.33 1929.81,654.64 1932.69,654.95 1935.57,655.26 1938.45,655.57 1941.33,655.88 1944.21,656.19 1947.09,656.51 1949.97,656.82 1952.85,657.13 1955.73,657.45 1958.61,657.76 1961.49,658.08 1964.37,658.39 1967.25,658.71 1970.12,659.02 1973.00,659.34 1975.88,659.66 1978.76,659.98 1981.64,660.30 1984.52,660.62 1987.40,660.94" fill="none" stroke="#08B4BA" stroke-width="1.80" stroke-linejoin="round"/>
<polyline points="1126.50,568.55 1129.38,568.82 1132.26,569.10 1135.14,569.37 1138.02,569.64 1140.90,569.91 1143.78,570.18 1146.65,570.45 1149.53,570.72 1152.41,570.99 1155.29,571.26 1158.17,571.53 1161.05,571.80 1163.93,572.07 1166.81,572.34 1169.69,572.61 1172.57,572.87 1175.45,573.14 1178.33,573.41 1181.21,573.68 1184.09,573.95 1186.96,574.22 1189.84,574.49 1192.72,574.76 1195.60,575.02 1198.48,575.29 1201.36,575.56 1204.24,575.83 1207.12,576.10 1210.00,576.36 1212.88,576.63 1215.76,576.90 1218.64,577.17 1221.52,577.43 1224.39,577.70 1227.27,577.97 1230.15,578.23 1233.03,578.50 1235.91,578.77 1238.79,579.03 1241.67,579.30 1244.55,579.57 1247.43,579.83 1250.31,580.10 1253.19,580.36 1256.07,580.63 1258.95,580.89 1261.83,581.16 1264.70,581.43 1267.58,581.69 1270.46,581.96 1273.34,582.22 1276.22,582.49 1279.10,582.75 1281.98,583.02 1284.86,583.28 1287.74,583.55 1290.62,583.81 1293.50,584.07 1296.38,584.34 1299.26,584.60 1302.14,584.87 1305.01,585.13 1307.89,585.40 1310.77,585.66 1313.65,585.92 1316.53,586.19 1319.41,586.45 1322.29,586.71 1325.17,586.98 1328.05,587.24 1330.93,587.50 1333.81,587.77 1336.69,588.03 1339.57,588.29 1342.44,588.56 1345.32,588.82 1348.20,589.08 1351.08,589.34 1353.96,589.61 1356.84,589.87 1359.72,590.13 1362.60,590.39 1365.48,590.65 1368.36,590.92 1371.24,591.18 1374.12,591.44 1377.00,591.70 1379.88,591.96 1382.75,592.22 1385.63,592.49 1388.51,592.75 1391.39,593.01 1394.27,593.27 1397.15,593.53 1400.03,593.79 1402.91,594.05 1405.79,594.31 1408.67,594.57 1411.55,594.84 1414.43,595.10 1417.31,595.36 1420.18,595.62 1423.06,595.88 1425.94,596.14 1428.82,596.40 1431.70,596.66 1434.58,596.92 1437.46,597.18 1440.34,597.44 1443.22,597.70 1446.10,597.96 1448.98,598.22 1451.86,598.48 1454.74,598.74 1457.62,599.00 1460.49,599.26 1463.37,599.52 1466.25,599.77 1469.13,600.03 1472.01,600.29 1474.89,600.55 1477.77,600.81 1480.65,601.07 1483.53,601.33 1486.41,601.59 1489.29,601.85 1492.17,602.11 1495.05,602.36 1497.93,602.62 1500.80,602.88 1503.68,603.14 1506.56,603.40 1509.44,603.66 1512.32,603.91 1515.20,604.17 1518.08,604.43 1520.96,604.69 1523.84,604.95 1526.72,605.20 1529.60,605.46 1532.48,605.72 1535.36,605.98 1538.23,606.24 1541.11,606.49 1543.99,606.75 1546.87,607.01 1549.75,607.27 1552.63,607.52 1555.51,607.78 1558.39,608.04 1561.27,608.30 1564.15,608.55 1567.03,608.81 1569.91,609.07 1572.79,609.33 1575.67,609.58 1578.54,609.84 1581.42,610.10 1584.30,610.35 1587.18,610.61 1590.06,610.87 1592.94,611.12 1595.82,611.38 1598.70,611.64 1601.58,611.89 1604.46,612.15 1607.34,612.41 1610.22,612.66 1613.10,612.92 1615.97,613.18 1618.85,613.43 1621.73,613.69 1624.61,613.95 1627.49,614.20 1630.37,614.46 1633.25,614.71 1636.13,614.97 1639.01,615.23 1641.89,615.48 1644.77,615.74 1647.65,615.99 1650.53,616.25 1653.41,616.51 1656.28,616.76 1659.16,617.02 1662.04,617.27 1664.92,617.53 1667.80,617.79 1670.68,618.04 1673.56,618.30 1676.44,618.55 1679.32,618.81 1682.20,619.06 1685.08,619.32 1687.96,619.58 1690.84,619.83 1693.72,620.09 1696.59,620.34 1699.47,620.60 1702.35,620.85 1705.23,621.11 1708.11,621.36 1710.99,621.62 1713.87,621.87 1716.75,622.13 1719.63,622.38 1722.51,622.64 1725.39,622.90 1728.27,623.15 1731.15,623.41 1734.02,623.66 1736.90,623.92 1739.78,624.17 1742.66,624.43 1745.54,624.68 1748.42,624.94 1751.30,625.19 1754.18,625.45 1757.06,625.70 1759.94,625.96 1762.82,626.21 1765.70,626.47 1768.58,626.72 1771.46,626.98 1774.33,627.23 1777.21,627.49 1780.09,627.74 1782.97,628.00 1785.85,628.25 1788.73,628.51 1791.61,628.76 1794.49,629.02 1797.37,629.27 1800.25,629.53 1803.13,629.78 1806.01,630.04 1808.89,630.29 1811.76,630.55 1814.64,630.80 1817.52,631.06 1820.40,631.31 1823.28,631.57 1826.16,631.82 1829.04,632.08 1831.92,632.33 1834.80,632.59 1837.68,632.84 1840.56,633.10 1843.44,633.35 1846.32,633.60 1849.20,633.86 1852.07,634.11 1854.95,634.37 1857.83,634.62 1860.71,634.88 1863.59,635.13 1866.47,635.39 1869.35,635.64 1872.23,635.90 1875.11,636.15 1877.99,636.41 1880.87,636.66 1883.75,636.92 1886.63,637.17 1889.51,637.43 1892.38,637.68 1895.26,637.94 1898.14,638.19 1901.02,638.45 1903.90,638.70 1906.78,638.96 1909.66,639.21 1912.54,639.47 1915.42,639.72 1918.30,639.98 1921.18,640.23 1924.06,640.49 1926.94,640.74 1929.81,641.00 1932.69,641.25 1935.57,641.51 1938.45,641.76 1941.33,642.02 1944.21,642.28 1947.09,642.53 1949.97,642.79 1952.85,643.04 1955.73,643.30 1958.61,643.55 1961.49,643.81 1964.37,644.06 1967.25,644.32 1970.12,644.57 1973.00,644.83 1975.88,645.08 1978.76,645.34 1981.64,645.60 1984.52,645.85 1987.40,646.11" fill="none" stroke="#08B4BA" stroke-width="1.80" stroke-linejoin="round"/>
</g>
<rect x="93.00" y="12.1" width="863.00" height="1.8" fill="#808080"/>
<rect x="93.05" y="12.1" width="1.9" height="890.60" fill="#808080"/>
<rect x="954.1" y="12.1" width="1.8" height="890.60" fill="#5E5E5E"/>
<rect x="93.05" y="901.9" width="863.00" height="1.6" fill="#333333"/>
<rect x="1125.90" y="12.1" width="862.10" height="1.8" fill="#808080"/>
<rect x="1125.9" y="12.1" width="1.3" height="890.60" fill="#333333"/>
<rect x="1986.7" y="12.1" width="1.3" height="890.60" fill="#333333"/>
<rect x="1125.9" y="901.9" width="862.10" height="1.6" fill="#333333"/>
<line x1="88.40" y1="902.70" x2="94.00" y2="902.70" stroke="#1a1a1a" stroke-width="1.5"/>
<line x1="88.40" y1="606.13" x2="94.00" y2="606.13" stroke="#1a1a1a" stroke-width="1.5"/>
<line x1="88.40" y1="309.57" x2="94.00" y2="309.57" stroke="#1a1a1a" stroke-width="1.5"/>
<line x1="88.40" y1="13.00" x2="94.00" y2="13.00" stroke="#1a1a1a" stroke-width="1.5"/>
<line x1="1120.90" y1="902.70" x2="1126.50" y2="902.70" stroke="#1a1a1a" stroke-width="1.5"/>
<line x1="1120.90" y1="606.13" x2="1126.50" y2="606.13" stroke="#1a1a1a" stroke-width="1.5"/>
<line x1="1120.90" y1="309.57" x2="1126.50" y2="309.57" stroke="#1a1a1a" stroke-width="1.5"/>
<line x1="1120.90" y1="13.00" x2="1126.50" y2="13.00" stroke="#1a1a1a" stroke-width="1.5"/>
<line x1="94.00" y1="902.70" x2="94.00" y2="907.90" stroke="#1a1a1a" stroke-width="1.5"/>
<line x1="266.22" y1="902.70" x2="266.22" y2="907.90" stroke="#1a1a1a" stroke-width="1.5"/>
<line x1="438.44" y1="902.70" x2="438.44" y2="907.90" stroke="#1a1a1a" stroke-width="1.5"/>
<line x1="610.66" y1="902.70" x2="610.66" y2="907.90" stroke="#1a1a1a" stroke-width="1.5"/>
<line x1="782.88" y1="902.70" x2="782.88" y2="907.90" stroke="#1a1a1a" stroke-width="1.5"/>
<line x1="955.10" y1="902.70" x2="955.10" y2="907.90" stroke="#1a1a1a" stroke-width="1.5"/>
<line x1="1126.50" y1="902.70" x2="1126.50" y2="907.90" stroke="#1a1a1a" stroke-width="1.5"/>
<line x1="1341.72" y1="902.70" x2="1341.72" y2="907.90" stroke="#1a1a1a" stroke-width="1.5"/>
<line x1="1556.95" y1="902.70" x2="1556.95" y2="907.90" stroke="#1a1a1a" stroke-width="1.5"/>
<line x1="1772.18" y1="902.70" x2="1772.18" y2="907.90" stroke="#1a1a1a" stroke-width="1.5"/>
<line x1="1987.40" y1="902.70" x2="1987.40" y2="907.90" stroke="#1a1a1a" stroke-width="1.5"/>
<text transform="translate(84.25,914.95) scale(1.0000,1.0350)" font-size="33.30" text-anchor="end">0.0</text>
<text transform="translate(84.25,618.38) scale(1.0000,1.0350)" font-size="33.30" text-anchor="end">0.5</text>
<text transform="translate(84.25,321.82) scale(1.0000,1.0350)" font-size="33.30" text-anchor="end">1.0</text>
<text transform="translate(84.25,25.25) scale(1.0000,1.0350)" font-size="33.30" text-anchor="end">1.5</text>
<text transform="translate(1116.75,914.95) scale(1.0000,1.0350)" font-size="33.30" text-anchor="end">0.0</text>
<text transform="translate(1116.75,618.38) scale(1.0000,1.0350)" font-size="33.30" text-anchor="end">0.5</text>
<text transform="translate(1116.75,321.82) scale(1.0000,1.0350)" font-size="33.30" text-anchor="end">1.0</text>
<text transform="translate(1116.75,25.25) scale(1.0000,1.0350)" font-size="33.30" text-anchor="end">1.5</text>
<text transform="translate(94.00,933.60) scale(1.0000,1.0250)" font-size="29.60" text-anchor="middle">0</text>
<text transform="translate(266.22,933.60) scale(1.0000,1.0250)" font-size="29.60" text-anchor="middle">100</text>
<text transform="translate(438.44,933.60) scale(1.0000,1.0250)" font-size="29.60" text-anchor="middle">200</text>
<text transform="translate(610.66,933.60) scale(1.0000,1.0250)" font-size="29.60" text-anchor="middle">300</text>
<text transform="translate(782.88,933.60) scale(1.0000,1.0250)" font-size="29.60" text-anchor="middle">400</text>
<text transform="translate(955.10,933.60) scale(1.0000,1.0250)" font-size="29.60" text-anchor="middle">500</text>
<text transform="translate(1126.50,933.60) scale(1.0000,1.0250)" font-size="29.60" text-anchor="middle">0</text>
<text transform="translate(1341.72,933.60) scale(1.0000,1.0250)" font-size="29.60" text-anchor="middle">1</text>
<text transform="translate(1556.95,933.60) scale(1.0000,1.0250)" font-size="29.60" text-anchor="middle">2</text>
<text transform="translate(1772.18,933.60) scale(1.0000,1.0250)" font-size="29.60" text-anchor="middle">3</text>
<text transform="translate(1987.40,933.60) scale(1.0000,1.0250)" font-size="29.60" text-anchor="middle">4</text>
<text transform="translate(524.70,974.90) scale(1.0000,1.0100)" font-size="33.40" text-anchor="middle">Distance to road (m)</text>
<text transform="translate(26.10,457.5) rotate(-90) scale(1,1.010)" font-size="33.40" text-anchor="middle">Step length (km/h)</text>
<text transform="translate(1058.60,457.5) rotate(-90) scale(1,1.010)" font-size="33.40" text-anchor="middle">Step length (km/h)</text>
<text transform="translate(1381.64,978.80) scale(1.0000,1.0100)" font-size="33.40">Road density</text>
<text transform="translate(1583.18,978.50) scale(1.1400,1.0000)" font-size="41.30" style="font-family:'Liberation Serif',serif" stroke="#fff" stroke-width="0.9">(</text>
<text transform="translate(1598.05,978.80) scale(1.0000,1.0100)" font-size="33.40">km</text>
<text transform="translate(1646.70,983.40) scale(0.7000,1.0000)" font-size="52.00" style="font-family:'Liberation Serif',serif">/</text>
<text transform="translate(1660.25,978.80) scale(1.0000,1.0100)" font-size="33.40">km</text>
<text x="1703.92" y="962.20" font-size="23.60">2</text>
<text transform="translate(1716.27,978.50) scale(1.1400,1.0000)" font-size="41.30" style="font-family:'Liberation Serif',serif" stroke="#fff" stroke-width="0.9">)</text>
<text x="120.03" y="56.80" font-size="34.90" font-weight="bold">A</text>
<text transform="translate(1153.98,56.80) scale(0.9450,1.0000)" font-size="34.80" font-weight="bold">B</text>
<rect x="793.50" y="31.90" width="29.4" height="28.9" fill="#FEE2E2" stroke="#E9625B" stroke-width="1.8"/>
<line x1="795.40" y1="46.30" x2="821.00" y2="46.30" stroke="#E9625B" stroke-width="1.9"/>
<text x="834.20" y="56.80" font-size="29.6">Summer</text>
<rect x="793.50" y="64.00" width="29.4" height="28.9" fill="#CBF0F0" stroke="#08B4BA" stroke-width="1.8"/>
<line x1="795.40" y1="78.40" x2="821.00" y2="78.40" stroke="#08B4BA" stroke-width="1.9"/>
<text x="834.20" y="88.90" font-size="29.6">Winter</text>
<rect x="1826.00" y="31.90" width="29.4" height="28.9" fill="#FEE2E2" stroke="#E9625B" stroke-width="1.8"/>
<line x1="1827.90" y1="46.30" x2="1853.50" y2="46.30" stroke="#E9625B" stroke-width="1.9"/>
<text x="1866.70" y="56.80" font-size="29.6">Summer</text>
<rect x="1826.00" y="64.00" width="29.4" height="28.9" fill="#CBF0F0" stroke="#08B4BA" stroke-width="1.8"/>
<line x1="1827.90" y1="78.40" x2="1853.50" y2="78.40" stroke="#08B4BA" stroke-width="1.9"/>
<text x="1866.70" y="88.90" font-size="29.6">Winter</text>
</svg></body></html>
